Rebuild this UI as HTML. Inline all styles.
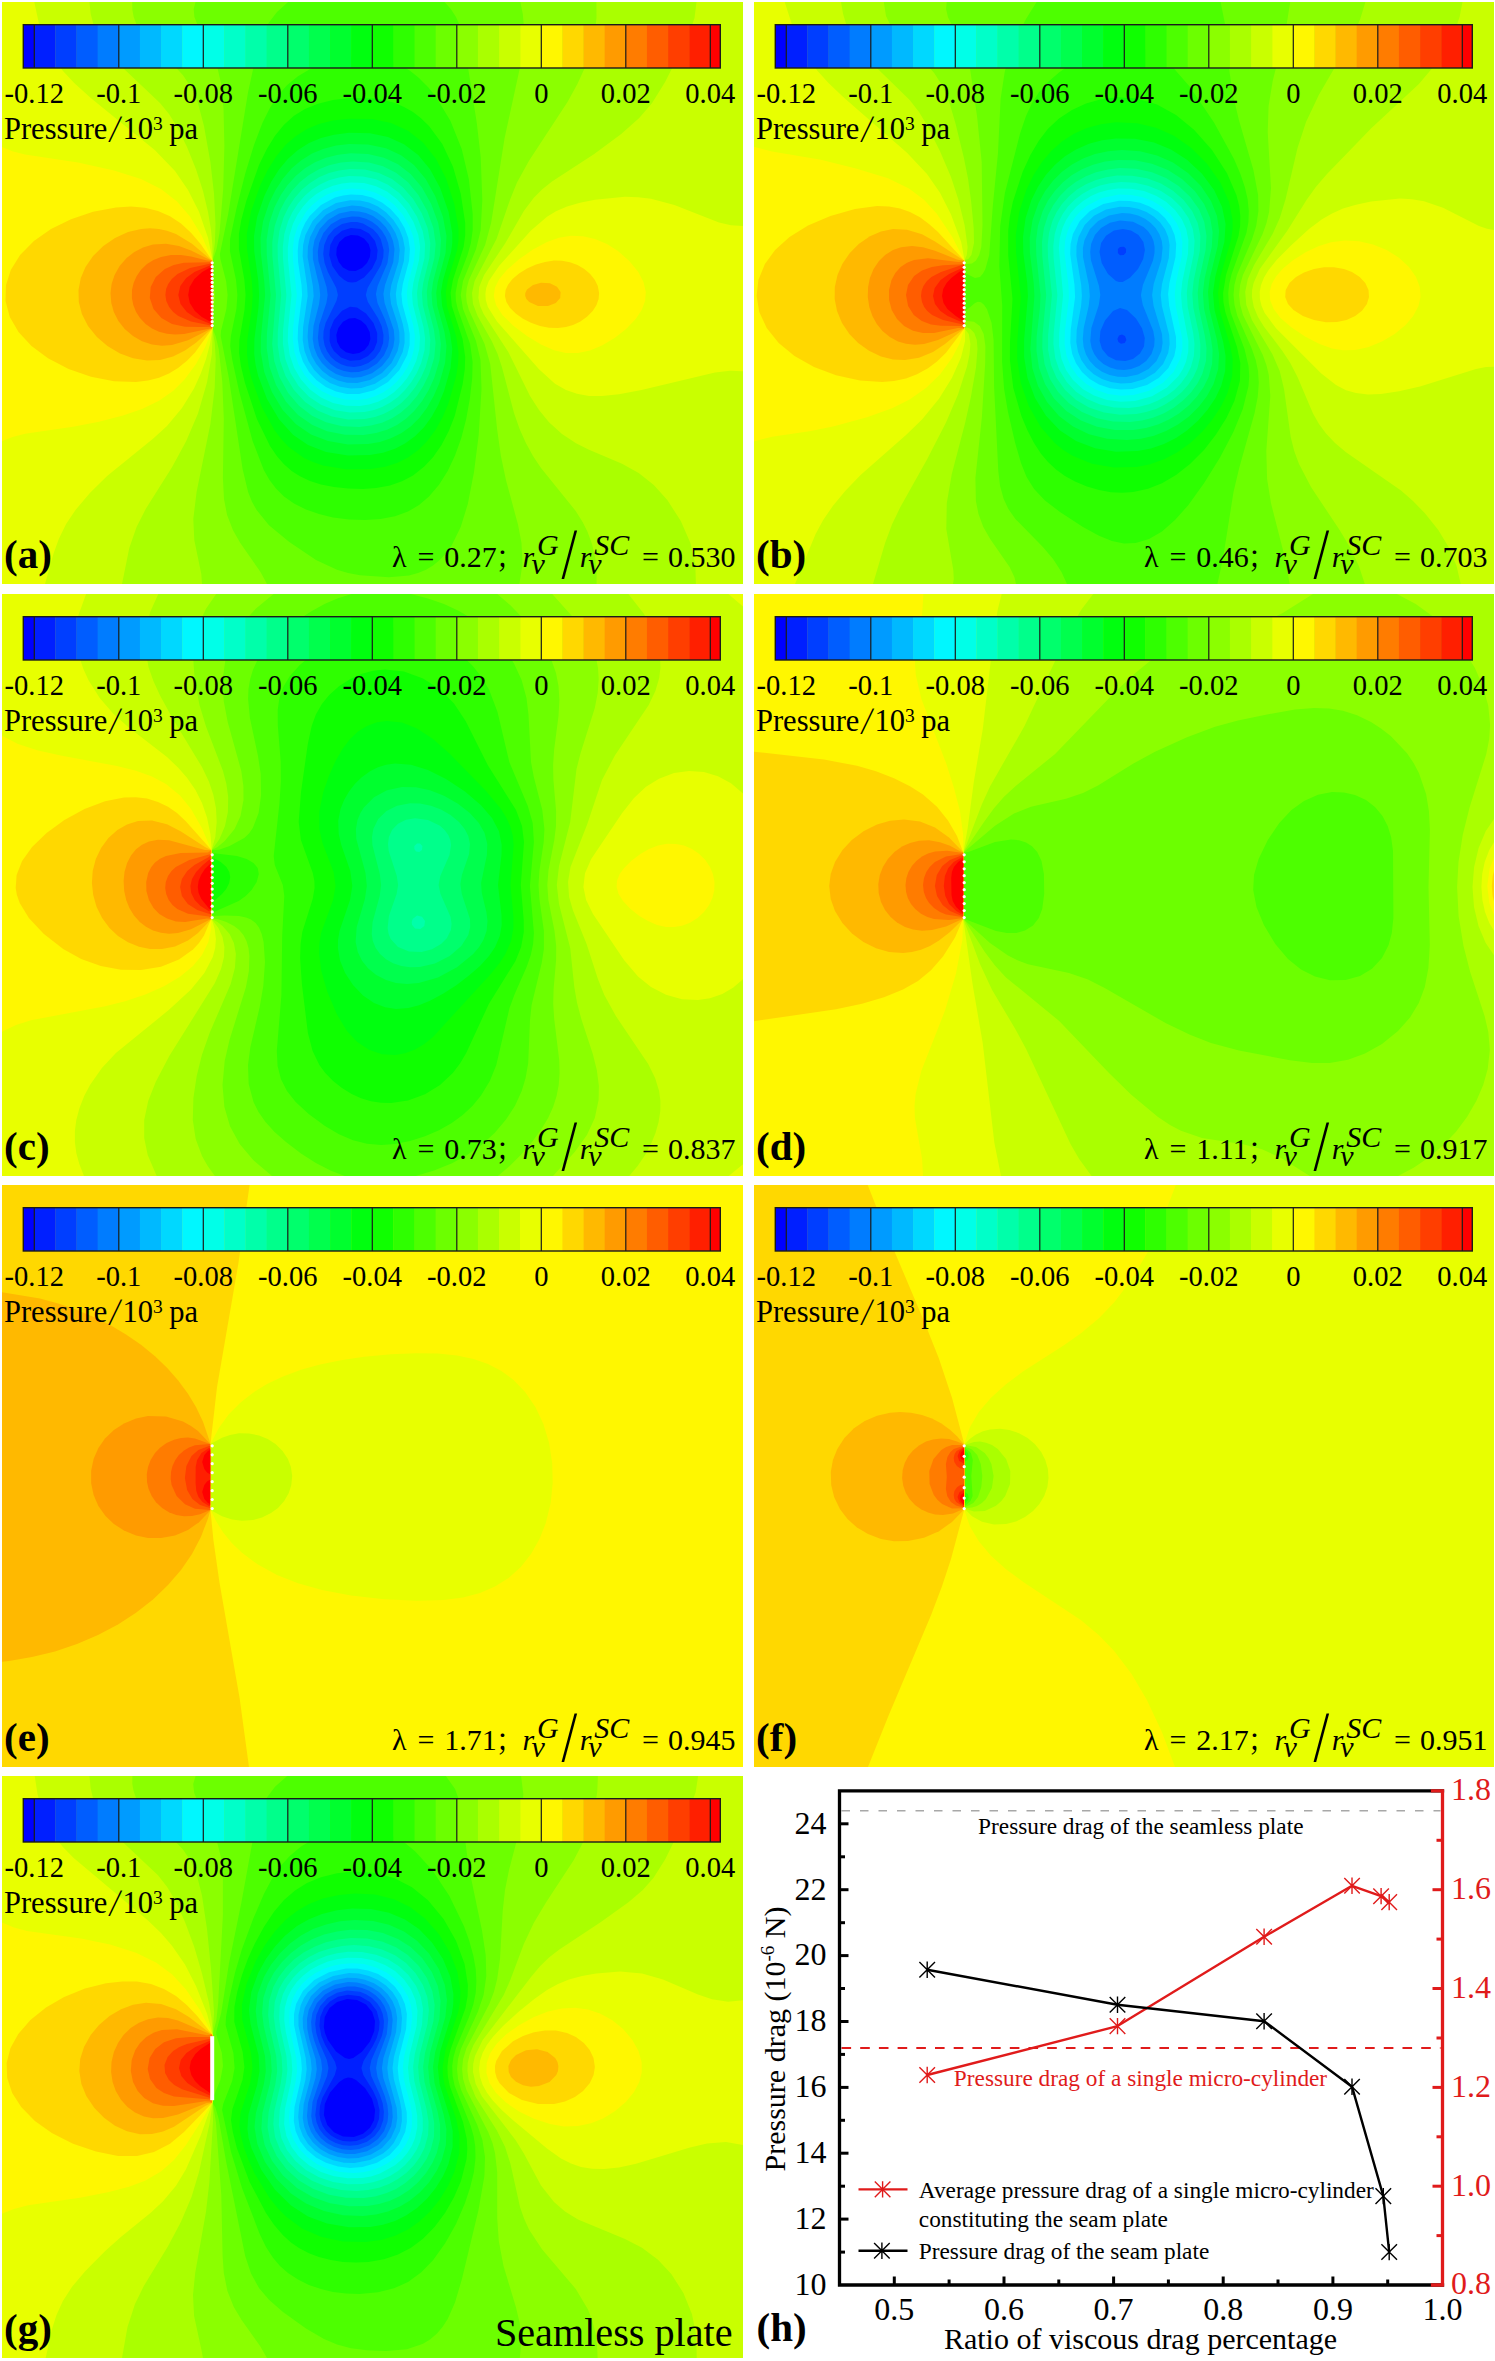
<!DOCTYPE html><html><head><meta charset="utf-8"><title>Pressure contours</title><style>

html,body{margin:0;padding:0;background:#fff}
body{width:1495px;height:2361px;position:relative;overflow:hidden}
.pn{position:absolute;overflow:hidden}
text{font-family:'Liberation Serif','Times New Roman',serif;fill:#000}
.tk{font-size:28.5px}
.pl{font-size:30.5px}
.sup{font-size:19.5px}
.lb{font-size:41px;font-weight:bold}
.eq{font-size:30px}
.ss{font-size:22px}
.sl{font-size:34px;font-family:'DejaVu Sans',sans-serif;font-weight:200}
.it{font-style:italic}
.cj{font-family:'Liberation Serif','Noto Serif CJK SC',serif}
.pls{font-size:31px;font-family:'DejaVu Sans',sans-serif;font-weight:200}
.sp{font-size:40.2px}
.ct{font-size:32px}
.cs{font-size:23.3px}
.cx{font-size:30px}
.csup{font-size:19px}

</style></head><body>
<svg class="pn" style="left:2px;top:2px" width="740.5" height="582" viewBox="0 0 740.5 582">
<rect width="741" height="582" fill="#0000ff"/>
<path fill="#001fff" fill-rule="evenodd" d="M741 582 0 582 -0 0 741 -0 741 582ZM353.6 269 360 266.1 365 261 367.9 255 368.5 248 366.7 242 362 236.4 356 233.4 349 233 343 235 337.4 240 334.7 246 334.3 253 336.7 260 341 265.4 347 268.8 353.6 269ZM357.2 351 362.5 348 366.6 343 368.4 337 367.7 330 364 323 359 318.5 353 316.1 347 316.4 341 319.8 336.3 326 334.3 333 335.1 340 338.4 346 344 350.3 351 352 357.2 351Z"/>
<path fill="#003eff" fill-rule="evenodd" d="M741 582 0 582 -0 0 741 -0 741 582ZM354.1 280 362 275.5 370 266.7 374.7 257 375.6 248 373 239 367 231.6 358.7 227 349 226 340 228.7 332.5 235 328.3 243 327.2 253 330.3 264 337 273.6 342 277.8 346 279.9 350 280.6 354.1 280ZM358.1 358 366 354.1 372 347.7 375.1 340 375.2 331 371.5 321 364 311.5 355 305.5 348 304.8 340 308.8 332 318.1 327.9 328 327.6 339 329.1 344 331.9 349 339 355.5 348 358.7 358.1 358Z"/>
<path fill="#005dff" fill-rule="evenodd" d="M741 582 0 582 -0 0 741 -0 741 582ZM358.6 364 366.2 361 373 355.9 378.1 349 381.1 341 381.5 333 379.6 324 375.9 316 365.9 300 363.8 293 365.6 286 379 262.9 381.3 255 381.6 248 378.7 237 375.5 232 371 227.2 361 221.5 355 220.1 349 220 340 222.1 332 227 326 234 322.2 243 321.2 252 322.6 261 326 270.2 334.3 286 335.9 293 334.4 299 323.6 321 321.6 329 321.3 336 322.5 343 324.9 349 329 354.9 333.5 359 339 362.2 345 364.2 352 364.9 358.6 364Z"/>
<path fill="#007cff" fill-rule="evenodd" d="M741 582 0 582 -0 0 741 -0 741 582ZM356.6 370 366 367.2 375 361.5 382 353.3 386.1 344 387.2 336 386.2 327 383.2 318 375.5 301 373.9 292 375.6 284 385.5 261 387.2 248 386.1 241 383.8 235 380.1 229 375.6 224 370 219.7 364 216.8 357 214.8 350 214.4 339 216.6 329 222.3 321.4 231 317.1 241 315.8 250 316.4 259 324.6 285 325.7 293 324.4 301 317.1 323 315.9 336 316.9 343 319.3 350 323 356.2 328.5 362 335 366.4 342 369.1 349 370.3 356.6 370Z"/>
<path fill="#009bff" fill-rule="evenodd" d="M741 582 0 582 -0 0 741 -0 741 582ZM359.2 375 370 371.2 380 364.1 387.2 355 391.3 345 392.5 337 391.8 328 382.6 301 381.4 292 383 283 391.3 260 392.5 247 391 239 388.2 232 383.7 225 378 219 371 214.1 364 211 357 209.4 349 209 337 211.6 326 217.9 317.7 227 312.5 238 310.8 247 310.9 257 317.2 284 318.2 293 317.1 302 311.5 324 310.7 337 312.2 346 315.4 354 320 361 326.1 367 334 371.9 342 374.7 351 375.8 359.2 375Z"/>
<path fill="#00b9ff" fill-rule="evenodd" d="M741 582 0 582 -0 0 741 -0 741 582ZM355.1 381 368 378 380 371.1 389.5 361 395.6 349 397.5 340 397.3 330 395.3 321 389.1 302 387.9 292 389.3 283 396.5 260 397.7 248 396.4 239 393.5 231 388.7 223 382.5 216 375 210.3 367 206.4 359 204.2 350 203.6 336 206.2 324 212.7 314.2 223 308.1 235 305.9 245 305.6 255 310.9 284 311.7 294 306.3 324 305.6 335 306.8 345 309.7 354 314.3 362 320.4 369 328 374.7 336 378.5 345 380.7 355.1 381Z"/>
<path fill="#00d8ff" fill-rule="evenodd" d="M741 582 0 582 -0 0 741 -0 741 582ZM359.4 386 373 381.8 384.8 374 394.4 363 400.7 350 402.6 341 402.5 331 400.8 322 394.9 302 393.8 292 395.3 282 401.9 259 402.8 246 400.9 236 397.3 227 391.4 218 384 210.2 376 204.6 367 200.6 358 198.5 348 198.2 334 201.1 321 208.3 310.6 219 303.4 233 301.1 243 300.6 254 305.1 284 305.7 294 301.1 325 300.7 338 302.5 349 306.4 359 312 367.7 319.1 375 328 380.9 338 384.8 349 386.6 359.4 386Z"/>
<path fill="#00f7ff" fill-rule="evenodd" d="M741 582 0 582 -0 0 741 -0 741 582ZM357.1 392 372 388.3 386 380.1 397.4 368 405.2 353 407.6 343 407.7 332 406.1 323 400.4 302 399.4 292 400.8 282 407 259 407.9 247 406.3 236 402.6 226 396.6 216 388.5 207 380 200.5 370 195.6 360 193.1 349 192.4 341 193.4 333 195.5 319 202.9 307.7 214 303.1 221 299.5 229 296.7 239 295.7 249 296.1 260 299.5 283 300.1 293 296.1 325 295.7 337 297.3 349 301 359.7 307 369.9 314.3 378 323.9 385 334 389.5 345 391.9 357.1 392Z"/>
<path fill="#00ffe8" fill-rule="evenodd" d="M741 582 0 582 -0 0 741 -0 741 582ZM355.8 398 365 396.7 373 394.2 381 390.5 388 385.8 394.5 380 400.4 373 405.5 365 409.3 357 412.3 346 412.9 334 411.4 324 405.7 302 404.8 291 406.2 281 412 259 413.1 247 411.6 236 407.4 224 401 212.9 392.5 203 383 195.5 373 190.5 362 187.4 350 186.5 341 187.4 333 189.4 325 192.6 317 197.4 310 203.2 304 209.9 295.4 225 292.1 236 290.8 247 291.1 259 294.8 293 291.1 326 290.8 337 292.4 350 296.3 362 302.6 373 310.4 382 320 389.3 331 394.6 343 397.5 355.8 398Z"/>
<path fill="#00ffc9" fill-rule="evenodd" d="M741 582 0 582 -0 0 741 -0 741 582ZM357.9 404 367 402.5 376 399.7 384 395.7 392 390.2 399 383.6 405 376.2 410.1 368 414.2 359 417.4 347 418 335 416.5 325 410.8 302 410 291 411.3 281 417.1 258 418.1 245 416.3 233 411.5 220 404 207.5 395 197.3 385 189.6 374 184.2 362 181.1 349 180.4 340 181.4 331 183.7 322 187.4 314 192.3 307 198.1 300.7 205 295.3 213 290.9 222 287.3 234 285.8 246 286 258 289.5 293 286.1 327 285.8 339 287.7 353 292.2 366 299 377.6 308 387.6 319 395.6 331 401 344 403.8 357.9 404Z"/>
<path fill="#00ffaa" fill-rule="evenodd" d="M741 582 0 582 -0 0 741 -0 741 582ZM362.5 410 372 407.9 380.1 405 388 400.8 396 395 403 388.1 409.4 380 414.8 371 419.2 361 422.6 348 423.1 336 421.5 325 415.9 303 415 291 416.3 281 422.5 256 423.1 242 420.7 229 415 214.7 407 201.7 397 190.7 386 182.7 374 177.3 361 174.4 347 174 337 175.4 327 178.3 318 182.4 310 187.5 302.5 194 296 201.6 290.5 210 286.2 219 282.3 232 280.8 245 281 257 284.4 293 281 329 280.9 342 283.3 357 288.5 371 296.6 384 307 394.8 319 402.8 333 408.2 348 410.6 362.5 410Z"/>
<path fill="#00ff8b" fill-rule="evenodd" d="M741 582 0 582 -0 0 741 -0 741 582ZM362.6 417 373 414.9 382 411.8 391 407 399 401.2 406.3 394 413 385.4 419 375.4 423.7 365 427.5 351 428.3 338 426.8 327 420.8 303 419.9 291 421.2 281 427.4 256 428.3 241 425.6 226 419.6 211 411 196.7 401 185.4 390 177 377 170.9 363 167.6 348 167 337 168.4 327 171.1 317 175.3 308 180.9 300 187.6 292.6 196 286.6 205 281.7 215 277.4 229 275.6 243 275.8 256 279.2 293 275.8 330 275.7 343 278.1 359 283.5 374 292 388.1 303.1 400 316 408.8 330 414.5 346 417.4 362.6 417Z"/>
<path fill="#00ff6c" fill-rule="evenodd" d="M741 582 0 582 -0 0 741 -0 741 582ZM357.3 425 369 423.6 380 420.7 390 416.3 399 410.5 407.4 403 415 394 421.3 384 427 372.4 432.2 356 433.6 341 432 328 425.6 303 424.8 290 426.2 280 432.4 256 433.7 242 431.4 226 425.3 209 416.4 193 406 180.3 394 170.7 381 164.3 367 160.6 351 159.5 339 160.5 327 163.3 317 167.2 307 172.9 298 180.1 290 188.7 283.5 198 277.8 209 272.7 224 270.3 240 270.4 254 274 293 270.2 342 272.2 359 277.4 375 286 390.7 297 403.7 310 413.7 324 420.3 340 424.2 357.3 425Z"/>
<path fill="#00ff4d" fill-rule="evenodd" d="M741 582 0 582 -0 0 741 -0 741 582ZM361.6 433 374 431.1 385 427.7 395 422.9 404 416.7 412.2 409 420 399.2 426.7 388 432.2 376 437.6 358 438.9 342 437.2 329 430.4 303 429.5 291 431 280 438 253 439 238 436.2 221 429.2 202 420 185.6 408.6 172 396 162.2 382 155.7 366 152 349 151.3 336 152.7 324 155.7 313 160.2 303 166.2 294 173.7 285.6 183 278.8 193 272.6 205 267.2 221 264.6 238 264.8 253 268.6 293 264.9 332 264.7 346 267.5 365 274 382.9 284 399.7 296 412.9 310 422.8 325 429.2 343 432.8 361.6 433Z"/>
<path fill="#00ff2e" fill-rule="evenodd" d="M741 582 0 582 -0 0 741 -0 741 582ZM366.1 442 378 439.9 389 436.3 399.6 431 409 424.2 417.3 416 425 405.7 431.7 394 437.4 381 443.1 361 444.5 344 442.5 330 435.3 304 434.2 291 435.8 280 443.6 251 444.5 234 441 215 433.2 194 423.7 177 412 163.1 399 153.2 384 146.3 366 142.4 347 142 334 143.6 321 147 310 151.6 299 158.4 290 166.1 281 176.5 273.5 188 267.1 201 261.1 219 258.5 236 258.8 251 262.3 280 263.1 293 258.9 335 258.7 350 262.2 370 269.9 390 280.7 408 294 422.3 309 432.5 326 439.1 346 442.4 366.1 442Z"/>
<path fill="#00ff0f" fill-rule="evenodd" d="M741 582 0 582 -0 0 741 -0 741 582ZM367.9 453 381 450.7 393 446.7 403 441.6 413 434.3 422 425.2 429.5 415 436.2 403 442 389.3 448.6 366 450.3 347 448.2 332 440.1 304 439 290 440.8 279 449.1 250 450.3 241 450.3 231 446.6 210 438.2 186 428 167.2 416.2 153 402 142.2 386 135.1 368 131.3 347 130.8 332 132.7 319 136.1 307 141.1 296 148 286 156.8 277 167.6 269.1 180 262.3 194 255.1 215 252 234 252.2 249 256.3 279 257.1 293 256.4 306 252.4 337 252.2 352 253.6 363 256.2 374 265 397 277 417.3 291 432.7 306 443 324 449.9 346 453.4 367.9 453Z"/>
<path fill="#0fff00" fill-rule="evenodd" d="M741 582 0 582 -0 0 741 -0 741 582ZM368.6 467 383 464.7 395 460.9 406 455.4 416 448.2 425 439.3 433.5 428 440.7 415 446.6 401 454.2 374 456 362 456.5 351 454.3 335 444.9 304 443.8 290 445.9 278 455.1 248 456.5 238 456.5 227 452.3 202 444 176.5 434 156.9 421 140.6 406 128.8 389 121.1 370 117.1 347 116.7 331 118.6 317 122.1 305 127.1 294 133.9 284 142.6 274.5 154 266 167.5 258.4 183 249.2 209 244.8 232 245 247 249.8 279 250.7 293 249.8 307 245.3 338 245 352 246.3 363 249.3 376 259.8 405 272.4 428 279.2 437 286.8 445 302 455.9 311 460.1 321 463.4 344 467.2 368.6 467Z"/>
<path fill="#2eff00" fill-rule="evenodd" d="M741 582 0 582 -0 0 741 -0 741 582ZM374.1 486 388 483.4 400 479.3 411 473.4 422 464.8 431 455.2 439.5 443 446.8 429 452.7 414 460.7 382 462.8 367 463.2 355 460.6 337 449.8 304 448.6 291 450.9 278 461.6 245 463.2 233 463.2 221 458.8 192 451 164.7 440.3 142 427 124 419 116.2 411 110.1 402 104.9 393 101.1 383 98.2 372 96.4 348 95.9 331 98 316 101.7 303 107 292 113.8 282 122.7 273 133.7 265 146.7 257 163.1 244.3 199 239.3 218 236.9 232 236.9 247 242.4 278 243.6 293 242.5 308 237.4 338 237.1 351 238.9 364 243 381 255 417.2 268 443.9 275 454.2 282 462.2 290 469.2 298 474.3 308 479 319 482.5 332 485.1 346 486.6 361 486.9 374.1 486Z"/>
<path fill="#4dff00" fill-rule="evenodd" d="M741 582 0 582 -0 0 741 -0 741 582ZM378.5 517 393 514.3 406 509.6 417 503.1 427 494.6 437 482.8 445.7 469 453 453.6 459.3 436 464.2 417 467.8 397 470.2 376 470.6 360 468.1 342 455.7 307 453.9 299 453.6 291 456 278 465.5 253 468.9 241 470.7 228 470.7 212 466.8 177 459.7 147 448.5 119 434 95 426 85.1 417 76 408 68.8 398 62.7 388 58.4 377 55.3 366 53.9 355 53.8 340 55.7 324 60.1 309 66.4 296 74.2 285 83.3 276 93.5 268 105.7 260.4 121 252 142.9 243.4 171 234.6 206 228.1 237 227.9 249 234 277.8 235.4 293 234.4 307 228.9 334 228.2 344 230.3 358 237.3 390 250.6 439 261.8 468 267.5 478 274 486.6 282 494.4 292 501.5 304 507.5 317 512.1 331 515.4 347 517.4 363 517.9 378.5 517Z"/>
<path fill="#6cff00" fill-rule="evenodd" d="M741 582 0 582 -0 0 286.1 0 275 9.9 266.6 21 260 34.3 254.6 51 246 90.5 226.2 212 217.9 252 218.4 257 224.1 279 225.6 293 224.4 307 219 329 218.7 334 226.7 375 240.6 467 246.1 490 250 499.7 254.6 508 267 523.2 287 539.8 314 557.9 335 567.8 346 571 358 573.2 387 575.3 407 573.6 416 571.1 424 567.7 431 563.5 438 557.8 444.3 551 449.9 543 458.7 525 465.8 502 472 470.1 476.7 433 479.5 387 478.5 358 474 339 461 307 458.7 293 461 279 474.1 247 478.7 228 480.3 198 478.7 155 474.8 121 461.2 35 458 24.1 454 15 448.8 7 442.5 0 741 -0 741 582Z"/>
<path fill="#8bff00" fill-rule="evenodd" d="M264 582 -0 582 0 -0 193.5 0 191.7 7 192.4 15 196 24 209 47.8 214.6 62 219 81.2 221.5 106 222.4 144 221.2 187 217.5 231 214.5 247 210.9 258 211 277.7 213.2 294 211 310.1 210.9 327 213.6 334 216.7 347 220.3 380 221.8 417 220.9 476 222 497 225.1 513 231 528.3 238.3 541 258.5 570 265 582 264 582ZM741 582 517.4 582 520.5 562 519.5 541 516.1 523 504 478.2 498.9 454 495.2 428 488.2 362 482.6 342 466.9 308 464.7 300 464.1 293 464.8 286 466.9 278 483.1 243 489.1 221 502.6 136 517.4 68 520.5 50 521.8 24 520.8 12 518.4 0 741 0 741 582Z"/>
<path fill="#aaff00" fill-rule="evenodd" d="M200 582 -0 582 0 -0 130.2 0 130.4 8 131.7 15 134.7 23 138.7 30 149 42.5 172 63.5 181 73.2 189.5 86 195.9 101 202 124 208.4 160 212 191.5 213.5 222 212.9 241 210.7 257 210.7 328 212.8 341 213.7 357 212.7 386 208.4 422 194.6 490 191.3 517 192.3 538 199.3 572 200 582ZM741 582 594.6 582 594.6 568 593.1 555 590 542 585.6 530 580.6 520 573.7 509 539 465.9 531 454 524 441.3 517.6 427 512 411.1 499.9 365 495.6 352 489.7 339 475.6 314 471 302 470 291 472.6 279 494.5 237 508.3 197 515 180.6 527 158.7 565.5 100 575.4 82 582.7 66 588.7 49 592.6 32 594.5 16 594.4 0 741 0 741 582Z"/>
<path fill="#c9ff00" fill-rule="evenodd" d="M119 582 -0 582 0 -0 87.4 0 88.7 12 91.6 23 96.2 34 103 45.3 118.9 64 158 100.9 167 112.1 175 124.8 185 145 194 167.2 201 189.1 206 210 209 227.7 210.4 243 210.9 323 209.9 352 205 380.6 196 411.4 184 439.5 170 465.2 143.7 507 134.6 525 127.3 546 120 582 119 582ZM741 582 693.9 582 693.3 562 688.4 541 678.8 519 665.3 498 651.8 483 636.7 471 620 461.7 587 447.7 574 441.2 560 432 547 420.2 537 408.1 528 394 506.3 350 481.6 312 478.1 304 476.4 296 477.2 285 482.1 273 503.4 241 522 208.8 532 195.5 540 187.5 550 179.5 592.2 152 619.2 132 637.2 116 650.1 101 663.1 80 686.3 34 692.5 16 694.5 0 741 0 741 582Z"/>
<path fill="#e8ff00" fill-rule="evenodd" d="M43 582 -0 582 0 -0 32.3 0 36.8 21 42.9 39 50.9 55 61 69 72.2 81 88.8 96 153 148.3 173 169.1 186 187.9 197 209.8 206 235.7 210.7 259 210.7 326 208 342 204 357.2 199 371.1 192 386.4 180 406.1 165 423.9 151 436.8 105.1 474 87.9 491 73.5 508 64.1 522 56.8 537 51.4 552 43 582ZM600 394 587 393.9 575 391.8 564 388 553 381.7 537 367.3 495 319.5 485.9 305 483.8 298 483.4 292 484.2 286 486.8 279 497 263.9 529 228.5 545 214.7 554 209.3 565 204.6 578 200.7 593 197.7 623 194.8 636 195.2 649 196.8 672.4 203 717 220.6 729 223.3 741 224 741 369.2 728 368.7 713 370.4 639.5 388 617 392.2 600 394Z"/>
<path fill="#fff700" fill-rule="evenodd" d="M0 439.3 0 144.9 11 149.4 23 152.6 76 160.6 112 168.6 139 177.1 159 187.1 175 199.6 188 214.6 200 234.2 210.6 259 210.6 326 203 345.5 194 362.1 183 377.1 171 389 157 398.8 140 407 121 413.5 97 419.7 71 424.8 23 431.7 10.5 435 0 439.3ZM576 351.1 564 351 552 348.2 539 342.4 525 333.9 511 323.4 500.4 313 494 303 491.8 294 493 285.5 497.3 277 505 267.8 517 257.3 531 247.5 545 239.9 557 235.7 569 233.8 581 234.2 593 236.9 605 242 616 249 627.3 259 636.3 270 641.5 280 643.8 290 643.1 299 639.7 308 633.7 317 624.1 327 612.6 336 600 343.5 588 348.5 576 351.1Z"/>
<path fill="#ffd800" fill-rule="evenodd" d="M134 380 112 379.2 89 374.7 66.6 367 46 356.3 29.5 344 16.5 330 7.8 315 3.5 299 4 283 8.8 268 18.1 253 31.9 239 49 227 69 217.2 91 209.8 114 205.4 129 204.6 143 205.7 156 208.9 168 214.2 179 221.6 189 230.8 199 242.6 210.5 259 210.7 323 210 327 193 350.4 185 358.7 176 366 167 371.5 157 375.7 146 378.6 134 380ZM556 326 547 325.7 538 323.9 529 320.7 521 316.7 514 311.8 508.1 306 504.4 300 502.9 294 503.6 288 506 282.7 510.5 277 517 271.4 525 266.5 534 262.5 543 259.9 552 258.6 560 258.8 568 260.2 575.5 263 582.3 267 588.2 272 592.9 278 595.8 284 597.1 291 596.6 297 594.5 303 590.7 309 585 314.8 578 319.7 571 323 564 325 556 326Z"/>
<path fill="#ffb900" fill-rule="evenodd" d="M158 358 145 358.6 131 356.2 118 351.4 105.4 344 94.9 335 86 324 79.9 312 76.8 300 76.5 288 78.8 276 83.5 265 91.1 254 101.3 244 113 236 126 230.1 139 227 148 226.3 157 227 165 228.7 174 232 190 241.7 210.4 259 210.4 326 194 340.7 183 348.6 171 354.6 158 358ZM546 304.1 536 303.9 527.2 300 524.4 297 523.2 294 523.3 291 525 287.6 531 283 539 280.8 548 281.3 555 284.7 558.6 290 558.2 296 553.8 301 546 304.1Z"/>
<path fill="#ff9b00" fill-rule="evenodd" d="M170 343 160 343.7 150 342.5 140 339.2 131 334.1 122.7 327 116.4 319 111.8 310 109.3 301 108.5 291 109.6 282 112.6 273 117.6 264 124.6 256 132.3 250 141 245.5 151 242.5 164 241.7 177 244 189 248.5 210.3 259 210.3 326 186 338.3 170 343Z"/>
<path fill="#ff7c00" fill-rule="evenodd" d="M182 332 173 332.5 165 331.8 157 329.7 150 326.5 143.6 322 138 316.1 134.1 310 131.3 303 129.9 296 130 288 131.6 281 134.7 274 139 267.8 145 262.1 151.5 258 159 255 169 253.1 179 253.1 189 254.6 205 258.6 210.3 259 210.3 326 182 332Z"/>
<path fill="#ff5d00" fill-rule="evenodd" d="M210 259.7 209.2 259 210 258.7 210 259.7ZM198 325 183 324.8 170 321.9 159.4 316 151.5 307 147.8 296 148.7 285 153.8 275 162.9 267 171.7 263 182 260.7 208 260.3 210 261.2 210.4 323 209 324.7 198 325ZM210 326.3 209.2 326 210 325.3 210 326.3Z"/>
<path fill="#ff3e00" fill-rule="evenodd" d="M210 323.7 189 319.6 176.3 314 171.2 310 167.1 305 164.3 299 163.4 293 164.1 287 166.2 282 169.8 277 175.5 272 188.1 266 210 261.3 210 323.7Z"/>
<path fill="#ff1f00" fill-rule="evenodd" d="M210 323.6 208 321.7 193 315.6 184.8 310 178.5 302 176.3 293 178.3 284 184.2 276 192.4 270 208 263.4 210 261.4 209.2 264 210.2 265 210.4 272 210.4 313 210.2 320 209.2 321 210 323.6Z"/>
<path fill="#ff0000" fill-rule="evenodd" d="M210 262.8 209.2 262 210 261.5 210 262.8ZM210 320.4 199.8 315 192.9 309 187.8 301 186.2 293 187.6 285 192.4 277 200.2 270 210 264.6 210 320.4ZM210 323.5 209.2 323 210 322.2 210 323.5Z"/>
<circle cx="210.2" cy="260.8" r="1.6" fill="#fff"/><circle cx="210.2" cy="264.7" r="1.6" fill="#fff"/><circle cx="210.2" cy="268.7" r="1.6" fill="#fff"/><circle cx="210.2" cy="272.6" r="1.6" fill="#fff"/><circle cx="210.2" cy="276.5" r="1.6" fill="#fff"/><circle cx="210.2" cy="280.4" r="1.6" fill="#fff"/><circle cx="210.2" cy="284.4" r="1.6" fill="#fff"/><circle cx="210.2" cy="288.3" r="1.6" fill="#fff"/><circle cx="210.2" cy="292.2" r="1.6" fill="#fff"/><circle cx="210.2" cy="296.1" r="1.6" fill="#fff"/><circle cx="210.2" cy="300.1" r="1.6" fill="#fff"/><circle cx="210.2" cy="304.0" r="1.6" fill="#fff"/><circle cx="210.2" cy="307.9" r="1.6" fill="#fff"/><circle cx="210.2" cy="311.8" r="1.6" fill="#fff"/><circle cx="210.2" cy="315.8" r="1.6" fill="#fff"/><circle cx="210.2" cy="319.7" r="1.6" fill="#fff"/><circle cx="210.2" cy="323.6" r="1.6" fill="#fff"/>
<rect x="21.30" y="22.7" width="11.30" height="43.3" fill="#0000ff"/>
<rect x="32.30" y="22.7" width="21.43" height="43.3" fill="#001fff"/>
<rect x="53.43" y="22.7" width="21.42" height="43.3" fill="#003eff"/>
<rect x="74.55" y="22.7" width="21.43" height="43.3" fill="#005dff"/>
<rect x="95.67" y="22.7" width="21.43" height="43.3" fill="#007cff"/>
<rect x="116.80" y="22.7" width="21.42" height="43.3" fill="#009bff"/>
<rect x="137.92" y="22.7" width="21.43" height="43.3" fill="#00b9ff"/>
<rect x="159.05" y="22.7" width="21.43" height="43.3" fill="#00d8ff"/>
<rect x="180.18" y="22.7" width="21.43" height="43.3" fill="#00f7ff"/>
<rect x="201.30" y="22.7" width="21.43" height="43.3" fill="#00ffe8"/>
<rect x="222.43" y="22.7" width="21.43" height="43.3" fill="#00ffc9"/>
<rect x="243.55" y="22.7" width="21.42" height="43.3" fill="#00ffaa"/>
<rect x="264.67" y="22.7" width="21.43" height="43.3" fill="#00ff8b"/>
<rect x="285.80" y="22.7" width="21.43" height="43.3" fill="#00ff6c"/>
<rect x="306.93" y="22.7" width="21.43" height="43.3" fill="#00ff4d"/>
<rect x="328.05" y="22.7" width="21.42" height="43.3" fill="#00ff2e"/>
<rect x="349.18" y="22.7" width="21.43" height="43.3" fill="#00ff0f"/>
<rect x="370.30" y="22.7" width="21.43" height="43.3" fill="#0fff00"/>
<rect x="391.43" y="22.7" width="21.43" height="43.3" fill="#2eff00"/>
<rect x="412.55" y="22.7" width="21.43" height="43.3" fill="#4dff00"/>
<rect x="433.68" y="22.7" width="21.43" height="43.3" fill="#6cff00"/>
<rect x="454.80" y="22.7" width="21.43" height="43.3" fill="#8bff00"/>
<rect x="475.93" y="22.7" width="21.43" height="43.3" fill="#aaff00"/>
<rect x="497.05" y="22.7" width="21.42" height="43.3" fill="#c9ff00"/>
<rect x="518.17" y="22.7" width="21.43" height="43.3" fill="#e8ff00"/>
<rect x="539.30" y="22.7" width="21.43" height="43.3" fill="#fff700"/>
<rect x="560.42" y="22.7" width="21.43" height="43.3" fill="#ffd800"/>
<rect x="581.55" y="22.7" width="21.43" height="43.3" fill="#ffb900"/>
<rect x="602.67" y="22.7" width="21.43" height="43.3" fill="#ff9b00"/>
<rect x="623.80" y="22.7" width="21.42" height="43.3" fill="#ff7c00"/>
<rect x="644.92" y="22.7" width="21.43" height="43.3" fill="#ff5d00"/>
<rect x="666.05" y="22.7" width="21.43" height="43.3" fill="#ff3e00"/>
<rect x="687.17" y="22.7" width="21.43" height="43.3" fill="#ff1f00"/>
<rect x="708.30" y="22.7" width="10.30" height="43.3" fill="#ff0000"/>
<line x1="32.30" y1="22.7" x2="32.30" y2="66.0" stroke="#1a1a1a" stroke-width="1.2"/>
<line x1="116.80" y1="22.7" x2="116.80" y2="66.0" stroke="#1a1a1a" stroke-width="1.2"/>
<line x1="201.30" y1="22.7" x2="201.30" y2="66.0" stroke="#1a1a1a" stroke-width="1.2"/>
<line x1="285.80" y1="22.7" x2="285.80" y2="66.0" stroke="#1a1a1a" stroke-width="1.2"/>
<line x1="370.30" y1="22.7" x2="370.30" y2="66.0" stroke="#1a1a1a" stroke-width="1.2"/>
<line x1="454.80" y1="22.7" x2="454.80" y2="66.0" stroke="#1a1a1a" stroke-width="1.2"/>
<line x1="539.30" y1="22.7" x2="539.30" y2="66.0" stroke="#1a1a1a" stroke-width="1.2"/>
<line x1="623.80" y1="22.7" x2="623.80" y2="66.0" stroke="#1a1a1a" stroke-width="1.2"/>
<line x1="708.30" y1="22.7" x2="708.30" y2="66.0" stroke="#1a1a1a" stroke-width="1.2"/>
<rect x="21.3" y="22.7" width="697.0" height="43.3" fill="none" stroke="#1a1a1a" stroke-width="1.4"/>
<text x="32.3" y="100.8" text-anchor="middle" class="tk">-0.12</text>
<text x="116.8" y="100.8" text-anchor="middle" class="tk">-0.1</text>
<text x="201.3" y="100.8" text-anchor="middle" class="tk">-0.08</text>
<text x="285.8" y="100.8" text-anchor="middle" class="tk">-0.06</text>
<text x="370.3" y="100.8" text-anchor="middle" class="tk">-0.04</text>
<text x="454.8" y="100.8" text-anchor="middle" class="tk">-0.02</text>
<text x="539.3" y="100.8" text-anchor="middle" class="tk">0</text>
<text x="623.8" y="100.8" text-anchor="middle" class="tk">0.02</text>
<text x="708.3" y="100.8" text-anchor="middle" class="tk">0.04</text>
<text x="2" y="136.5" class="pl">Pressure</text><text transform="translate(106.2 136.5) skewX(-10)" class="pls">/</text><text x="120.6" y="136.5" class="pl">10</text><text x="151" y="127.7" class="sup">3</text><text x="167.3" y="136.5" class="pl">pa</text>
<text x="2.1" y="565.6" class="lb">(a)</text>
<text x="390" y="565.1" class="eq">λ</text>
<text x="415.6" y="565.1" class="eq">=</text>
<text x="442.3" y="565.1" class="eq">0.27</text>
<text x="493.5" y="565.1" class="eq cj">；</text>
<text x="520.6" y="565.1" class="eq it">r</text>
<text x="529.6" y="572.2" class="eq it">v</text>
<text x="535.1" y="552.6" class="eq it">G</text>
<text transform="translate(558.7 571.8) scale(1.5 1.7)" class="sl">/</text>
<text x="577.8" y="565.1" class="eq it">r</text>
<text x="586.3" y="572.2" class="eq it">v</text>
<text x="592.3" y="552.6" class="eq it">SC</text>
<text x="640" y="565.1" class="eq">=</text>
<text x="733.6" y="565.1" text-anchor="end" class="eq">0.530</text>
</svg>
<svg class="pn" style="left:753.5px;top:2px" width="740.5" height="582" viewBox="0 0 740.5 582">
<rect width="741" height="582" fill="#003eff"/>
<path fill="#005dff" fill-rule="evenodd" d="M741 582 0 582 -0 0 741 -0 741 582ZM369.8 253 372 250.5 372.1 247 370 244.8 366 244.9 363.9 247 363.9 251 366 253.2 369.8 253ZM370.7 341 372.4 338 371 334 368 332.6 365 333.6 363.4 337 364.4 340 367 341.7 370.7 341Z"/>
<path fill="#007cff" fill-rule="evenodd" d="M741 582 0 582 -0 0 741 -0 741 582ZM368.7 280 376 275.8 384 266.9 389.2 257 390.9 248 389.4 240 384.5 233 377 228.5 369 227.1 360 228.6 352 233.7 347.1 241 345.5 250 347.7 261 354 272 362 279.1 365 280.1 368.7 280ZM371.3 359 379 356.9 386 351.6 390 344.4 390.8 336 388 326.2 382 316.6 373 308.1 366 305.9 359 309 351 318.4 346.4 329 345.6 339 348 347.1 354 354.2 362 358.2 371.3 359Z"/>
<path fill="#009bff" fill-rule="evenodd" d="M741 582 0 582 -0 0 741 -0 741 582ZM377.1 367 385.2 364 392.2 359 397.5 352 400.2 344 400.6 337 399.3 329 388.8 303 386.9 293 388.9 283 399 258.4 400.5 251 400.6 245 399.5 239 397.4 234 393.9 229 389.6 225 379 219.7 366 218.4 356 220.7 347 226 340.9 233 337.1 242 336.2 250 336.9 258 345 284 346.3 293 344.8 303 337.4 326 336.3 339 337.6 346 340.2 352 344 357.3 349.4 362 356 365.5 363 367.4 370 367.9 377.1 367Z"/>
<path fill="#00b9ff" fill-rule="evenodd" d="M741 582 0 582 -0 0 741 -0 741 582ZM372.1 375 384 372.6 394.6 367 402.5 359 407.3 349 408.6 341 408 332 399.6 304 398.1 293 399.7 282 407.3 258 408.6 246 407.8 239 405.3 232 401.6 226 396.8 221 391 216.8 384 213.6 376 211.6 368 211.1 355 213.4 344.1 219 336 227 330.5 238 328.9 246 329 255 334.9 283 335.8 294 334.7 304 329.7 326 328.8 337 329.6 345 332 352.4 335.8 359 341.3 365 348 369.7 355.6 373 364 374.8 372.1 375Z"/>
<path fill="#00d8ff" fill-rule="evenodd" d="M741 582 0 582 -0 0 741 -0 741 582ZM377 381 390 377.3 401 370.7 409.1 362 414.2 351 415.6 342 415.2 333 407.9 304 406.7 293 408 282 414.8 256 415.6 243 414.2 235 411 227.3 406 220.3 400 214.7 392.5 210 384 206.7 375 204.9 366 204.8 352 207.6 340 213.8 330.6 223 324.5 235 322.5 244 322.4 254 327.2 283 327.9 294 327.1 304 322.7 328 322.3 340 324 349.7 327.3 358 332.9 366 339.4 372 347.9 377 357 380.1 367 381.5 377 381Z"/>
<path fill="#00f7ff" fill-rule="evenodd" d="M741 582 0 582 -0 0 741 -0 741 582ZM378.6 387 393 382.9 405 375.8 414.4 366 420.3 354 422.1 345 422 335 415.2 304 414.1 292 415.4 281 421.5 255 422.2 242 420.6 233 416.8 224 411 216 404 209.6 395 204.2 386 200.8 376 198.9 365 198.7 349.3 202 336 209 325.8 219 318.9 232 316.6 242 316.2 252 320.5 283 321.1 295 316.7 328 316.3 341 318.2 352 322 361.3 328 369.9 335.7 377 345 382.5 356 386.2 367 387.6 378.6 387Z"/>
<path fill="#00ffe8" fill-rule="evenodd" d="M741 582 0 582 -0 0 741 -0 741 582ZM379.6 393 395 388.8 409 380.7 419.5 370 426.2 357 428.3 347 428.3 337 421.7 304 420.8 292 422.1 280 427.8 254 428.4 240 426.5 230 422.6 221 416.1 212 408 204.7 398.6 199 388 195 377 192.9 365 192.6 348 196 333 203.7 326.6 209 321.2 215 316.7 222 313.7 229 311.1 239 310.4 250 314.5 284 314.9 296 310.9 329 310.6 342 312.6 354 317 364.7 323.5 374 332 381.8 342 387.8 354 391.9 367 393.7 379.6 393Z"/>
<path fill="#00ffc9" fill-rule="evenodd" d="M741 582 0 582 -0 0 741 -0 741 582ZM380.9 399 398 394.3 413 385.6 424.5 374 428.9 367 432 359.8 434.2 350 434.4 339 428 305 427 292 428.2 280 434 252 434.4 238 432.2 227 427.7 217 421 207.9 412 199.8 402 193.7 390 189.1 377 186.7 364 186.6 354 188.1 345 190.6 337 194.1 329.1 199 322 205 316.7 211 312.1 218 308.5 226 305.8 236 304.8 246 309.1 293 305.2 331 305.1 344 307.5 357 312 368 319 378.1 329 387.2 340 393.6 353 397.9 367 399.8 380.9 399Z"/>
<path fill="#00ffaa" fill-rule="evenodd" d="M741 582 0 582 -0 0 741 -0 741 582ZM374.9 406 385 404.8 395 402.2 404 398.6 413 393.5 420.3 388 427.2 381 432.9 373 436.9 365 439.9 354 440.5 342 439.2 331 433.7 305 432.8 291 434.1 279 439.7 252 440.6 239 438.8 227 434.5 216 427 205 418 196.3 407 189.1 394 183.7 381 180.8 367 180.1 356 181.2 346 183.6 337 187.1 328.2 192 320.4 198 314 204.6 308.7 212 304.1 221 300.7 232 299.3 244 299.6 256 303.4 293 299.7 331 299.4 342 301.2 356 305.3 368 312.7 380 322 389.7 333 397.1 346 402.6 360 405.6 374.9 406Z"/>
<path fill="#00ff8b" fill-rule="evenodd" d="M741 582 0 582 -0 0 741 -0 741 582ZM382.5 412 392 410.1 402 406.9 411 402.6 420 396.8 427.9 390 434.1 383 439.4 375 443.5 366 446.1 355 446.4 343 445 332 439.4 306 438.3 292 439.6 279 445.8 249 446.4 234 443.7 221 438.1 209 429.6 198 419 188.7 407 181.5 393 176.3 378 173.7 363 173.6 352 175.2 342 177.9 332 182.2 323 187.6 315 194.2 308 202 302.7 210 298.4 219 295 231 293.7 243 294 255 297.9 293 294.1 333 294.1 348 297 362.9 302.6 376 311.1 388 322.1 398 335 405.5 350 410.6 366 412.8 382.5 412Z"/>
<path fill="#00ff6c" fill-rule="evenodd" d="M741 582 0 582 -0 0 741 -0 741 582ZM376.1 420 388 418.5 399 415.7 410 411.2 420 405.5 429 398.6 437 390.4 443.8 381 448.3 372 452 359 452.5 346 450.9 334 444.8 306 443.7 291 445.1 278 451.6 248 452.5 234 450.3 220 445 207.3 436.3 195 425 184.3 412 175.9 398 170.2 382 166.7 366 166.1 354 167.4 342 170.3 332 174.2 322 179.8 313.8 186 305.9 194 299.4 203 294.1 213 289.9 226 288 240 288.3 254 292.2 293 288.5 333 288.3 346 290.5 362 295.9 377 304.1 390 315 401.3 328 410.1 343 416.3 359 419.6 376.1 420Z"/>
<path fill="#00ff4d" fill-rule="evenodd" d="M741 582 0 582 -0 0 741 -0 741 582ZM379.3 428 392 426 404 422.5 415 417.6 425 411.5 435 403.3 443 394.6 449.7 385 454.6 375 458.1 362 458.6 348 456.9 336 450.1 307 448.9 291 450.5 277 457.8 245 458.6 230 456.2 216 450.1 202 440.8 189 428 176.9 414 168.1 398 161.7 381 158.3 364 157.9 351 159.5 339 162.7 328 167.2 318 173.1 309 180.2 301 188.7 294 198.6 288.7 209 283.9 224 282 239 282.3 253 286.5 293 285.9 306 282.6 335 282.5 349 285 366 291 382.1 300 396.4 312.3 409 327 418.6 343 424.8 361 428 379.3 428Z"/>
<path fill="#00ff2e" fill-rule="evenodd" d="M741 582 0 582 -0 0 741 -0 741 582ZM372.9 438 387 436.7 400 433.7 412 429.1 424 422.6 435 414.4 445 404.5 453 394 459.6 382 464.2 367 465.1 352 463 338 455.3 307 454 290 455.8 276 463.7 244 465.1 229 463 214 457 198.9 447 184 434 170.9 419 160.6 403 153.5 386 149.3 368 148.1 354 149.3 341 152.1 329 156.5 318 162.4 308 169.8 299 178.7 291 189.3 284.5 201 278.5 218 275.7 236 275.9 251 279.7 281 280.4 294 276.3 347 278.3 366 284 383.9 293 400 305 414 319 424.6 335 432.2 353 436.8 372.9 438Z"/>
<path fill="#00ff0f" fill-rule="evenodd" d="M741 582 0 582 -0 0 741 -0 741 582ZM383.7 449 397 446.4 410 441.9 422 435.9 433 428.5 444 418.8 453.4 408 461.5 396 467.2 384 471.2 369 471.6 354 469.2 340 460.5 308 459 291 461.2 275 470.4 240 471.6 222 468.1 205 460.1 188 448 171.7 433 157.7 417 147.5 400 140.6 381 136.8 362 136.4 348 138.3 335 141.8 322 147.4 311 154.2 301 162.7 291.8 173 284 184.7 277.4 198 271.6 216 269 235 269.3 251 273.2 281 273.9 294 270.1 338 270.1 355 273.5 376 281 396 292 413.7 306 428.4 322 439 341 446.3 362 449.7 383.7 449Z"/>
<path fill="#0fff00" fill-rule="evenodd" d="M741 582 0 582 -0 0 741 -0 741 582ZM382.3 465 396 462.3 410 457.3 423 450.6 436 441.3 448 430 458 418.1 467 404.4 473.5 391 478.2 374 478.7 357 476 343 465.8 309 464 291 466.5 274 477.2 237 478.6 227 478.6 218 475.1 200 466.6 181 453 161.7 437 145.7 420 133.8 402 125.7 383 121.2 362 120.3 347 122.3 333 126.1 320 131.8 308 139.5 297.3 149 288 160 279.6 173 272.3 188 265.2 210 261.8 233 262.1 251 266.8 295 263.3 339 263.2 357 266.8 381 274.8 404 286.7 425 301 441.3 309 447.8 318 453.5 338 461.7 360 465.6 382.3 465Z"/>
<path fill="#2eff00" fill-rule="evenodd" d="M741 582 0 582 -0 0 741 -0 741 582ZM379.2 490 394 486.8 408 481.3 422 473.1 436 462.1 450 447.9 462 432.6 472.4 416 480.4 399 485.9 379 486.3 361 483 345 471.3 310 469.4 300 469.1 291 472 273 484.5 234 486.1 224 486.3 214 485.2 204 482.4 193 473 171.2 458 148.1 440 127.8 422 113 403 102.6 383 96.6 363 95.3 347 97.3 332 101.6 318 107.9 305 116.5 294 126.8 285 138.5 276.4 153 268.6 170 258.8 200 255.8 215 254.2 229 254.2 253 258.5 297 256 340 255.9 358 259.3 386 267.4 414 273.3 428 280 441 287 451.7 294 460.1 302 467.6 311 474.1 321 479.6 333 484.6 345 488.1 357 490.2 368 490.8 379.2 490Z"/>
<path fill="#4dff00" fill-rule="evenodd" d="M741 582 0 582 -0 0 741 -0 741 582ZM381.6 541 395 537 408 529.4 421 518.1 434 503.4 450 481.3 466 455.5 479.4 430 488.8 407 494.5 384 495.2 374 494.5 364 490.5 347 476.8 311 474.8 301 474.2 291 475.2 282 477.6 272 492.4 231 494.4 220 494.8 209 493.6 197 490.8 185 486.4 172 480 157.1 460 120.5 436 85.1 419 65.6 403 52.8 395 48.6 386 45.3 377 43.5 368 43.1 356 44.5 344 48 331 53.7 318 61.2 305 70.4 294 80 285 90.2 278 101 272 114 266 131.8 250.9 191 246.2 224 245.3 264 248.2 303 248.1 360 250.1 387 254 410 261.2 441 267 461.1 272.6 475 280.1 487 291 498.5 306 510 329 524.9 345 533.8 358 539 370 541.4 381.6 541Z"/>
<path fill="#6cff00" fill-rule="evenodd" d="M313 582 -0 582 0 -0 282.6 0 272 17 262.8 35 255.9 52 250.7 70 246.6 97 244 151 238.8 204 235.2 253 231.4 267 229 271.6 226 274.9 221 275.9 211 271.1 211 305 211.6 306 211 309.6 221 300.9 224 299.8 227 300.2 230 302.7 233 307.2 237.6 321 239.6 338 240.1 385 244.3 469 246.1 484 249.7 497 254.4 507 261.4 517 288.9 545 299.1 557 307.5 570 313 582ZM741 582 463.4 582 468.9 557 479.5 490 485.2 466 500.6 411 503.7 395 504.8 381 504 369 501.7 358 497.5 346 483.4 314 480.5 303 479.5 293 480.4 283 483 272.8 497.8 238 502.2 224 504.4 209 504.1 193 499.4 168 484.9 118 479.2 94 475.5 70 471 22 466.6 0 741 0 741 582ZM211.6 268 211 267.3 211 268.6 211.6 268ZM211.6 313 211 312.2 211 313.4 211.6 313Z"/>
<path fill="#8bff00" fill-rule="evenodd" d="M262 582 -0 582 0 -0 192.7 0 192.1 7 193.9 15 209.4 46 216.2 68 223 113.8 227.7 160 228.5 223 227.3 245 225.2 253 222 258.5 218 261.5 211 262.3 211 263 211 318.7 220 319.7 225.8 324 229.7 332 231.4 344 231.2 361 227.9 415 221.4 476 221.9 499 224.5 512 229.3 525 236.2 537 255.6 565 260.4 575 262 582ZM741 582 535.7 582 531 556 517 501.3 513.1 477 512.3 449 516.3 394 514.8 373 512.4 363 508.8 353 489 313 486.2 303 485.1 293 486.1 283 488.9 273 508.6 232 512.5 221 515.1 210 517 186 513.7 130 514.6 104 518.7 79 532.4 24 536.2 0 741 0 741 582ZM211.6 322 211 320.6 211 322.3 211.6 322Z"/>
<path fill="#aaff00" fill-rule="evenodd" d="M199 582 -0 582 0 -0 129.8 0 132 14 138.8 28 148.6 40 171 60.8 180 70.8 188.5 84 195.2 100 201.4 121 210 156.2 214.1 177 217.2 200 219.7 226 220 241 217.4 253 214.3 257 211 258.1 211 326 213 325.4 216 326.4 220.3 331 222.8 338 223.5 347 222 365.4 216.9 395 211 421.4 197.8 472 192.8 501 192.3 527 199.3 568 199.8 577 199 582ZM741 582 610.8 582 604.9 564 595.8 545 585.6 528 557 485 545 462 540.2 449 536.7 435 530 387 525.7 369 518.3 352 498 318.3 492.3 303 491.2 290 493.8 277 500.1 263 518.6 232 525.8 216 531.6 197 543.5 146 552 120.1 564.8 93 598.4 35 606.2 17 611.4 0 741 0 741 582Z"/>
<path fill="#c9ff00" fill-rule="evenodd" d="M119 582 -0 582 0 -0 87 0 89.1 12 92.4 23 97.5 34 103.7 44 118 61.2 155.7 98 165 110 173 123.2 186 149.3 197 175.1 204.2 197 210.6 223 213.6 245 212.8 253 210.7 258 210.9 327 214.8 332 216.4 342 215.6 352 213 364.5 204 392.6 192 420.6 173 457.5 146.4 505 138.2 522 131.1 541 119 582ZM741 582 706.7 582 702.6 564 695.2 546 684.3 528 670.7 511 659 499 647 488.6 592 450.2 581 441 572 431.5 565 422 559 411.6 543.5 375 536.3 361 528.4 349 510 324.7 504 315 499.8 305 497.9 295 498.1 288 499.6 281 505.8 267 533.1 229 553 197.3 562 184.7 573 172 617 126.4 664.9 82 684.3 59 693.2 45 700.5 30 705.6 15 708.5 0 741 0 741 582Z"/>
<path fill="#e8ff00" fill-rule="evenodd" d="M41 582 -0 582 0 -0 30.7 0 38.1 23 45.1 40 53.3 55 63.6 69 74.5 81 89.2 95 153 150.8 173 172.1 186 190.8 197 212.4 207.2 240 210.7 259 211.1 339 207 355.4 198 375.7 185 396.7 168 417.4 152 433.1 106.6 473 91.2 489 78.8 504 69.2 518 61.6 532 41 582ZM627 392 614 392.5 602 391.1 592 388.2 582 383.1 567 371.2 522 326.2 510.7 311 507.6 304 505.9 297 505.7 290 507 283 510 275.6 514.6 268 523 257.6 537 243.5 555 227.1 568 217.2 578 211.4 589 206.6 602 202.7 617 199.5 646 196.6 658 197.2 670 199.2 689 205.7 725 224.1 733 226.7 741 228.2 741 364.8 732 365.1 722 366.9 666 384.5 645 389.3 627 392Z"/>
<path fill="#fff700" fill-rule="evenodd" d="M1 439 0 439.4 0 144.7 18 149.6 67 157.8 102 166.4 134 176.3 155 186.4 170 197.7 183 212 198 234.6 210.7 259 210.7 326 205.3 342 198 356.1 186 372.4 172 386.1 156 397.3 138 406.3 113 415.2 80 424.3 57 429 18 434.7 1 439ZM601 348 589 348.3 578 346.4 565 341.7 551 334.4 537 325.1 526.5 316 519.7 307 516.1 298 515.7 290 517.7 282 522 274.5 529 266.5 539 258.3 552 250 565 243.9 577 240.2 591 238.4 605 239.2 619 242.4 632.7 248 645 255.7 655 265 662 275 665.8 285 666.5 295 664.5 304 659.2 314 651.6 323 640.7 332 628 339.6 614 345.2 601 348Z"/>
<path fill="#ffd800" fill-rule="evenodd" d="M128 380 106 378.6 82 373.3 60 365 40.5 354 24.7 341 12.7 326 5.3 310 2.6 294 4.4 278 10.9 262 21.1 248 35.5 235 54 223.6 76.4 214 101 206.9 123 204.1 135 204.5 146 206.6 156 210 166 215.3 175 221.9 184 230 210.6 259 210.7 322 210 327 192 350.8 183 359.5 174 366.2 163 372.3 152 376.4 140 379 128 380ZM583 320.1 572 320.3 560 318.1 548.9 314 539.5 308 534 302 531.2 295 531.7 288 535.5 281 542 275.1 550 270.5 560 267 570 265.3 580 265.2 590 267 598 270 605.7 275 611.3 281 614.5 288 615 295 612.9 302 608 308.7 601.2 314 592.5 318 583 320.1Z"/>
<path fill="#ffb900" fill-rule="evenodd" d="M151 358.1 139 357.4 127 354.4 115 348.8 104.2 341 95.4 332 88 321 83 309 80.7 297 80.8 285 83.5 273 88.3 262 95.8 251 105 241.8 116 234.3 127 229.5 139 227.1 153 227.7 168 232.3 181 239.4 210.5 259 210.5 326 191 342.1 179 349.9 165 355.7 151 358.1Z"/>
<path fill="#ff9b00" fill-rule="evenodd" d="M170 342 161 342.7 152 341.8 144 339.4 135.8 335 128.5 329 122.8 322 118.4 314 115.3 305 113.8 295 114.1 285 115.9 276 119.6 267 125 259 131.1 253 139 248 147 245.2 158 244 169 245.3 181 248.8 203 257.4 210.4 259 210.4 326 184 338 170 342Z"/>
<path fill="#ff7c00" fill-rule="evenodd" d="M180 331 169 331.1 159 328.8 150.1 324 143 317.1 137.7 308 135.1 298 135 288 137.5 278 141.3 271 146.6 265 153 260.7 160 257.9 174 256.3 204 260 208 259.8 210 258.5 209.2 261 210.5 263 210.5 322 209.7 324 210.3 326 204 326.1 180 331Z"/>
<path fill="#ff5d00" fill-rule="evenodd" d="M210 259.7 209.2 259 210 258.6 210 259.7ZM208 324 187 323.8 177 322.4 167.8 319 159.8 313 154.1 304 152 293 154 283 160.1 274 168 268.4 177.8 265 189 263.3 210 262.2 210.5 322 208 324ZM210 326.4 209.1 326 210 325.1 210 326.4Z"/>
<path fill="#ff3e00" fill-rule="evenodd" d="M210 322.8 189 318 178.1 313 173.3 309 170.2 305 168 300 167 294 167.6 289 169.4 284 172.9 279 177.4 275 187 269.9 210 262.3 210 322.8ZM210 326.3 209.4 326 210 325.4 210 326.3Z"/>
<path fill="#ff1f00" fill-rule="evenodd" d="M210 264.3 209.1 263 210 262.4 210 264.3ZM210 322.7 208 320.3 193.6 314 186.4 309 181 302 179 294 180.7 286 186.6 278 195.1 272 208 266 210 266.6 210.2 268 210.4 313 210.1 318 209 320 210 320.4 210 322.7Z"/>
<path fill="#ff0000" fill-rule="evenodd" d="M210 263.9 209.2 263 210 262.5 210 263.9ZM210 318.2 207.9 318 201.8 314 193.4 307 189.5 301 188 294 189.2 287 192.6 281 197.3 276 209 266.9 210 267 209.3 270 210.3 272 210 318.2ZM210 322.5 209.1 322 210 321 210 322.5Z"/>
<circle cx="210.2" cy="260.8" r="1.6" fill="#fff"/><circle cx="210.2" cy="265.3" r="1.6" fill="#fff"/><circle cx="210.2" cy="269.8" r="1.6" fill="#fff"/><circle cx="210.2" cy="274.3" r="1.6" fill="#fff"/><circle cx="210.2" cy="278.7" r="1.6" fill="#fff"/><circle cx="210.2" cy="283.2" r="1.6" fill="#fff"/><circle cx="210.2" cy="287.7" r="1.6" fill="#fff"/><circle cx="210.2" cy="292.2" r="1.6" fill="#fff"/><circle cx="210.2" cy="296.7" r="1.6" fill="#fff"/><circle cx="210.2" cy="301.2" r="1.6" fill="#fff"/><circle cx="210.2" cy="305.7" r="1.6" fill="#fff"/><circle cx="210.2" cy="310.1" r="1.6" fill="#fff"/><circle cx="210.2" cy="314.6" r="1.6" fill="#fff"/><circle cx="210.2" cy="319.1" r="1.6" fill="#fff"/><circle cx="210.2" cy="323.6" r="1.6" fill="#fff"/>
<rect x="21.30" y="22.7" width="11.30" height="43.3" fill="#0000ff"/>
<rect x="32.30" y="22.7" width="21.43" height="43.3" fill="#001fff"/>
<rect x="53.43" y="22.7" width="21.42" height="43.3" fill="#003eff"/>
<rect x="74.55" y="22.7" width="21.43" height="43.3" fill="#005dff"/>
<rect x="95.67" y="22.7" width="21.43" height="43.3" fill="#007cff"/>
<rect x="116.80" y="22.7" width="21.42" height="43.3" fill="#009bff"/>
<rect x="137.92" y="22.7" width="21.43" height="43.3" fill="#00b9ff"/>
<rect x="159.05" y="22.7" width="21.43" height="43.3" fill="#00d8ff"/>
<rect x="180.18" y="22.7" width="21.43" height="43.3" fill="#00f7ff"/>
<rect x="201.30" y="22.7" width="21.43" height="43.3" fill="#00ffe8"/>
<rect x="222.43" y="22.7" width="21.43" height="43.3" fill="#00ffc9"/>
<rect x="243.55" y="22.7" width="21.42" height="43.3" fill="#00ffaa"/>
<rect x="264.67" y="22.7" width="21.43" height="43.3" fill="#00ff8b"/>
<rect x="285.80" y="22.7" width="21.43" height="43.3" fill="#00ff6c"/>
<rect x="306.93" y="22.7" width="21.43" height="43.3" fill="#00ff4d"/>
<rect x="328.05" y="22.7" width="21.42" height="43.3" fill="#00ff2e"/>
<rect x="349.18" y="22.7" width="21.43" height="43.3" fill="#00ff0f"/>
<rect x="370.30" y="22.7" width="21.43" height="43.3" fill="#0fff00"/>
<rect x="391.43" y="22.7" width="21.43" height="43.3" fill="#2eff00"/>
<rect x="412.55" y="22.7" width="21.43" height="43.3" fill="#4dff00"/>
<rect x="433.68" y="22.7" width="21.43" height="43.3" fill="#6cff00"/>
<rect x="454.80" y="22.7" width="21.43" height="43.3" fill="#8bff00"/>
<rect x="475.93" y="22.7" width="21.43" height="43.3" fill="#aaff00"/>
<rect x="497.05" y="22.7" width="21.42" height="43.3" fill="#c9ff00"/>
<rect x="518.17" y="22.7" width="21.43" height="43.3" fill="#e8ff00"/>
<rect x="539.30" y="22.7" width="21.43" height="43.3" fill="#fff700"/>
<rect x="560.42" y="22.7" width="21.43" height="43.3" fill="#ffd800"/>
<rect x="581.55" y="22.7" width="21.43" height="43.3" fill="#ffb900"/>
<rect x="602.67" y="22.7" width="21.43" height="43.3" fill="#ff9b00"/>
<rect x="623.80" y="22.7" width="21.42" height="43.3" fill="#ff7c00"/>
<rect x="644.92" y="22.7" width="21.43" height="43.3" fill="#ff5d00"/>
<rect x="666.05" y="22.7" width="21.43" height="43.3" fill="#ff3e00"/>
<rect x="687.17" y="22.7" width="21.43" height="43.3" fill="#ff1f00"/>
<rect x="708.30" y="22.7" width="10.30" height="43.3" fill="#ff0000"/>
<line x1="32.30" y1="22.7" x2="32.30" y2="66.0" stroke="#1a1a1a" stroke-width="1.2"/>
<line x1="116.80" y1="22.7" x2="116.80" y2="66.0" stroke="#1a1a1a" stroke-width="1.2"/>
<line x1="201.30" y1="22.7" x2="201.30" y2="66.0" stroke="#1a1a1a" stroke-width="1.2"/>
<line x1="285.80" y1="22.7" x2="285.80" y2="66.0" stroke="#1a1a1a" stroke-width="1.2"/>
<line x1="370.30" y1="22.7" x2="370.30" y2="66.0" stroke="#1a1a1a" stroke-width="1.2"/>
<line x1="454.80" y1="22.7" x2="454.80" y2="66.0" stroke="#1a1a1a" stroke-width="1.2"/>
<line x1="539.30" y1="22.7" x2="539.30" y2="66.0" stroke="#1a1a1a" stroke-width="1.2"/>
<line x1="623.80" y1="22.7" x2="623.80" y2="66.0" stroke="#1a1a1a" stroke-width="1.2"/>
<line x1="708.30" y1="22.7" x2="708.30" y2="66.0" stroke="#1a1a1a" stroke-width="1.2"/>
<rect x="21.3" y="22.7" width="697.0" height="43.3" fill="none" stroke="#1a1a1a" stroke-width="1.4"/>
<text x="32.3" y="100.8" text-anchor="middle" class="tk">-0.12</text>
<text x="116.8" y="100.8" text-anchor="middle" class="tk">-0.1</text>
<text x="201.3" y="100.8" text-anchor="middle" class="tk">-0.08</text>
<text x="285.8" y="100.8" text-anchor="middle" class="tk">-0.06</text>
<text x="370.3" y="100.8" text-anchor="middle" class="tk">-0.04</text>
<text x="454.8" y="100.8" text-anchor="middle" class="tk">-0.02</text>
<text x="539.3" y="100.8" text-anchor="middle" class="tk">0</text>
<text x="623.8" y="100.8" text-anchor="middle" class="tk">0.02</text>
<text x="708.3" y="100.8" text-anchor="middle" class="tk">0.04</text>
<text x="2" y="136.5" class="pl">Pressure</text><text transform="translate(106.2 136.5) skewX(-10)" class="pls">/</text><text x="120.6" y="136.5" class="pl">10</text><text x="151" y="127.7" class="sup">3</text><text x="167.3" y="136.5" class="pl">pa</text>
<text x="2.1" y="565.6" class="lb">(b)</text>
<text x="390" y="565.1" class="eq">λ</text>
<text x="415.6" y="565.1" class="eq">=</text>
<text x="442.3" y="565.1" class="eq">0.46</text>
<text x="493.5" y="565.1" class="eq cj">；</text>
<text x="520.6" y="565.1" class="eq it">r</text>
<text x="529.6" y="572.2" class="eq it">v</text>
<text x="535.1" y="552.6" class="eq it">G</text>
<text transform="translate(558.7 571.8) scale(1.5 1.7)" class="sl">/</text>
<text x="577.8" y="565.1" class="eq it">r</text>
<text x="586.3" y="572.2" class="eq it">v</text>
<text x="592.3" y="552.6" class="eq it">SC</text>
<text x="640" y="565.1" class="eq">=</text>
<text x="733.6" y="565.1" text-anchor="end" class="eq">0.703</text>
</svg>
<svg class="pn" style="left:2px;top:593.5px" width="740.5" height="582" viewBox="0 0 740.5 582">
<rect width="741" height="582" fill="#00ffaa"/>
<path fill="#00ff8b" fill-rule="evenodd" d="M741 582 0 582 -0 0 741 -0 741 582ZM417.3 258 420 255.9 420.4 252 418 249.6 415 249.4 412.3 252 412.3 255 414 257.4 417.3 258ZM418.4 335 422.3 332 423 327 420 322.7 415 321.6 410.7 325 409.7 328 410 330.8 413 334.5 418.4 335Z"/>
<path fill="#00ff6c" fill-rule="evenodd" d="M741 582 0 582 -0 0 741 -0 741 582ZM419.6 358 430 355.3 439 350.1 445 344 448.9 336 449.6 330 448.6 323 438.5 300 436.6 291 438.3 282 447.5 261 449.1 251 448.3 246 446.3 241 442.6 236 438 231.8 426 225.9 413 224.3 404 225.8 396 229.8 390 236 386.9 243 386 250 386.7 257 394.8 282 396.1 291 394.6 300 386.9 322 385.6 334 386.6 340 388.7 345 396 352.9 407 357.5 419.6 358Z"/>
<path fill="#00ff4d" fill-rule="evenodd" d="M741 582 0 582 -0 0 741 -0 741 582ZM417.7 373 433 369.4 447.7 362 459.3 352 466.3 341 468.2 333 468 325 459.8 300 458.4 290 459.9 281 467.1 260 468 250 466.3 242 462.7 235 457 228 448.5 221 439 215.6 429 211.8 418 209.5 408 209.2 395 211.7 384.5 217 376.2 225 371.3 235 370 243 370.4 251 377.8 280 379.1 291 377.7 302 370.6 328 369.7 340 370.8 347 373.7 354 378 360 384 365.3 391 369.2 399.3 372 408 373.3 417.7 373Z"/>
<path fill="#00ff2e" fill-rule="evenodd" d="M741 582 0 582 -0 0 741 -0 741 582ZM416.7 389 436 383.4 455 373.3 471.2 360 477.1 353 481.4 346 484.6 337 485.5 327 484.4 318 479.8 299 479.1 289 484.9 261 485.3 250 482.6 239 476.9 229 467.8 219 456 209.8 442 201.7 428 196.3 414 193.3 400 193 385 196.3 372 203.3 362 213.2 358.4 219 355.5 226 353.9 235 354.3 245 363.5 279 364.8 292 362.9 305 354.7 333 353.6 348 355.8 358 360 366.7 366 374.2 374.2 381 384 386 394 388.9 405 390 416.7 389Z"/>
<path fill="#00ff0f" fill-rule="evenodd" d="M741 582 0 582 -0 0 741 -0 741 582ZM406.4 414 417 411.2 428 406.7 441 399.8 454 391.4 467 381.6 478 371.9 487 362 493 353.2 497.8 342 499.7 331 499.5 321 496 291 499.5 261 499.7 251 496.9 237 490 224.1 479 211.3 463 197.6 444 184.9 426 175.9 409 170.8 393 169.5 384 170.7 376 173.2 368 177.2 360 182.9 353 189.8 347 197.6 342.1 206 338.5 215 336.2 227 336.7 240 339.3 251 348.3 277 350.3 292 348 306 337.5 337 336 346 335.9 354 338 366.4 343.1 379 351 391 361 401.4 372 408.9 383 413.2 394 414.9 406.4 414Z"/>
<path fill="#0fff00" fill-rule="evenodd" d="M741 582 0 582 -0 0 741 -0 741 582ZM393.4 461 403 459.3 413 455.5 422 450.2 431 442.9 489 379.7 497.6 369 503.4 360 509.1 347 511.4 334 511.4 323 508.5 291 511.6 251 510.8 242 508.5 233 504.5 224 499 215 484 196.9 448 160.1 431 144.9 415 134.4 400 128.6 385 126.9 375 128.3 365 131.9 356 137.6 348 145.1 340.5 155 333.6 167 327 181.8 321.3 198 317.2 218 317.3 235 320.5 249 331.6 278 333.6 292 331.1 306 319.1 339 317.4 349 317 359 319.3 377 325.4 398 335 420.5 345 436.9 355 447.7 367 455.8 380 460.2 393.4 461Z"/>
<path fill="#2eff00" fill-rule="evenodd" d="M741 582 0 582 -0 0 741 -0 741 582ZM389.2 509 406 506.5 423 500.3 438 491 450.8 479 458 469.5 464.2 459 486.8 410 513.5 367 519.1 353 521.8 338 521.7 326 518.8 291 522 248 520 232 514 216 485.7 171 463.6 127 452 109.4 438 95.3 421 84.4 402 77.6 383 75.6 371 76.8 359 80.1 348 85.2 337 92.3 327.2 101 319.9 110 314 120.3 309.7 132 305.8 150 299 198.2 296.7 228 298.9 246 310.8 279 312.4 287 312.6 294 310.7 305 300.3 338 298.6 350 298.1 364 299.9 390 305.9 439 310.6 457 317.4 471 323.3 479 331.1 487 340 494.1 349.7 500 359 504.2 369 507.2 379 508.8 389.2 509ZM211.2 262 210 260.9 210 262.9 211.2 262ZM213.1 306 220 300.1 224.2 295 227.2 289 228.2 283 227.3 278 224.4 273 218.8 268 212 264.2 209.9 266 210 306.3 213.1 306ZM210.9 310 210 308.8 210 310.4 210.9 310Z"/>
<path fill="#4dff00" fill-rule="evenodd" d="M741 582 0 582 -0 0 741 -0 741 582ZM379.1 551 393 550 408 547.1 423 542.3 437 536.3 449.8 529 460.7 521 470.4 512 479 501.6 487.8 487 494.3 471 507.5 414 512.7 400 524.6 373 528.8 361 531.1 350 531.9 339 527.9 292 531.9 248 530.7 229 525.8 212 507.3 168 495.5 118 487.2 96 479.6 83 469.9 71 458 60.1 445 51.3 430 43.7 413 37.6 397 34 381 32.7 367 33.6 354 36.6 341 41.5 327 49 311 59.9 297.8 71 287.9 82 281.2 93 277.4 104 275.7 116 275.8 131 278.7 168 278.9 187 277.4 210 271.7 262 272.8 271 280.8 291 282.3 302 280.2 342 279.4 401 274.8 457 275.6 472 278.9 485 285 497 293.7 508 306.7 520 323 532 337 540.3 351 546.3 365 549.8 379.1 551ZM210 258 210.8 257 210 256.6 210 258ZM210.6 320 213 317.6 236.7 307 243.7 302 249.6 296 254.7 288 256.8 280 255.7 274 251.5 269 244.6 265 235 262 212 259.2 210 260.3 209.9 315 210.8 317 210 319 210 320.1 210.6 320Z"/>
<path fill="#6cff00" fill-rule="evenodd" d="M342 582 -0 582 0 -0 349.6 0 336 4.2 323 9.8 309 17.5 295 26.6 281 37.4 270 47.4 261.6 57 255 67.1 250.9 76 248.2 85 246.5 95 246.1 105 247.9 124 256 162 258.7 180 259.1 201 256.6 219 250.8 234 247 239.4 242.2 244 227.6 252 217 255.7 210 256.3 209.8 257 210 320.7 212 322 223 321.4 237 322.1 244 323.4 249 325.5 253.6 329 257 333.6 259.7 340 261.6 348 263 368 261.3 392 257.7 413 248.4 453 246 471 246.7 490 251.5 508 256.5 518 263.5 528 272.6 538 284 548.1 299 559.4 313.9 569 329 576.8 342.8 582 342 582ZM741 582 413.7 582 432 576.5 450 569.2 465.1 561 479.4 551 492.6 539 504 525.6 513 511.7 519.7 497 523.6 484 526.2 469 528 426 529.6 411 539.7 369 541.9 355 541.9 337 537.4 305 536.5 291 537.4 277 541.7 248 542.4 235 540.3 216 531.8 183 529 168 526.5 121 524.5 104 519.6 86 512 69.5 503.8 57 493.8 45 482.2 34 470 24.7 457 17 442 10 426 4.4 408.8 0 741 0 741 582ZM210.8 324 210 322.9 210 324.4 210.8 324Z"/>
<path fill="#8bff00" fill-rule="evenodd" d="M270 582 -0 582 0 -0 271.6 0 254 14.4 239.9 30 230 46.2 223.7 64 220.7 85 221.7 107 225.7 128 239.3 177 241.4 192 241.5 206 238.5 222 232.6 235 222.7 247 215.6 253 210 255.9 209.8 257 210 324.7 215.5 325 224.3 328 232.1 332 237.2 336 241.4 341 244.5 347 246.5 354 247.4 362 246.9 377 244 393 227.5 446 222.7 467 220.5 491 222.4 513 228 532.3 237.7 550 251.2 566 270 582ZM741 582 495.9 582 507.7 572 519 560.7 530 547.9 539.5 535 546.1 524 551.1 513 554.6 502 556.7 491 557.6 479 557.2 466 552.2 425 551.2 410 551.6 395 554.1 366 554.2 352 552.5 337 546.4 306 545.3 291 546.5 276 552.3 246 554 232 554.1 217 551.4 186 551.1 171 552.1 156 556.5 122 557.4 106 556.5 92 554 79 549.4 66 543.3 54 533.9 40 521.7 25 508.1 11 495.3 0 741 0 741 582Z"/>
<path fill="#aaff00" fill-rule="evenodd" d="M212 582 -0 582 0 -0 214.2 0 204 14.8 196.9 30 192.7 46 191.2 64 192.7 86 197.5 111 204.2 133 221 177 224.4 190 226.2 203 225.9 218 223 232 217.5 245 209.8 256 209.8 324 210 325.1 215.5 328 220.5 332 227.6 340 231.9 349 233.9 360 232.9 374 228.7 390 207.6 439 199.9 461 194.7 482 191.4 504 190.8 526 193.7 545 200 562 205.7 572 212.9 582 212 582ZM741 582 551 582 572.7 558 584.9 541 592.8 524 596.6 506 596.9 492 594.8 476 590.8 460 579.3 425 575 408.8 572.3 393 568.2 354 557 310 554.8 291 557 272 568.2 228 574.5 175 578.6 159 592.8 114 595.7 99 596.7 85 596 74 594.1 64 590.7 54 586.5 45 573.5 26 550.2 0 741 0 741 582Z"/>
<path fill="#c9ff00" fill-rule="evenodd" d="M154 582 -0 582 0 -0 156.3 0 148.2 18 143.9 36 143.2 54 146.5 73 151.4 87 158.3 102 171.5 126 200 173.1 207 187.8 211.4 201 214 214.2 214.7 228 213.3 243 209.7 256 209.7 324 210 325.6 216.4 334 220.5 343 222.4 353 222 363 219 375.1 212.9 389 167.3 462 153.7 488 146.2 507 142.2 526 142.2 544 145.7 561 154.7 582 154 582ZM741 582 627.2 582 635.6 572 643.1 561 649 550 653.5 539 656.6 528 658.3 517 658.4 507 657.1 497 653.1 484 646.2 470 614 422.2 602.3 401 596 385.2 584.6 350 571 316.6 567.1 303 566 288 568.5 273 585.3 230 600 186 613 161.2 646.7 111 653.4 97 657.2 84 658.4 74 658.1 64 656.3 53 653 42 648.3 31 642 20 626.4 0 741 0 741 582Z"/>
<path fill="#e8ff00" fill-rule="evenodd" d="M82 582 -0 582 0 -0 84.1 0 76.5 21 74.8 31 74.3 42 75.3 53 77.7 64 81.4 75 86.4 86 97.7 104 111.6 120 126.2 133 165 163.1 176 173.5 185 183.7 193.5 196 200 209 205 223.5 208.4 240 209.5 253 209.7 325 212.7 335 213.9 345 213.2 354 210.8 363 202.4 379 189 395.4 167 415.8 113.9 459 99.9 474 88 491 82.2 502 77.5 514 74.3 526 72.9 537 72.9 548 74.3 559 77.3 570 82 582ZM741 12.6 726.4 0 741 -0 741 12.6ZM696 406 680 405.2 664 400.7 649 393 636 382.5 622 365.9 591 320 584.1 306 581.4 293 583 279.3 589.2 265 620 219.2 632 203.9 644 192.8 657 184.7 672 179.1 687 176.9 702 178 716 182.2 729 189.3 741 199.5 741 385.3 731 393.8 720.3 400 708 404.3 696 406ZM741 582 726.7 582 741 570.3 741 582Z"/>
<path fill="#fff700" fill-rule="evenodd" d="M1 437.3 0 437.9 0 141.8 16 149.9 36 156.4 60 161.8 115 172 134 176.7 150 182.5 164 190.1 178 201.5 189 214.9 200 234.2 209.3 256 209.2 334 206.4 348 200 361 191 372 178 382.8 162 392.3 144 400.2 124 406.9 102 412.6 29 426.2 14 431 1 437.3ZM672 333 664 332.9 655 330.9 646 327.1 637 321.7 628 314.4 621 307 616.6 300 614.6 293 615 286.8 617.7 280 622.1 274 629.1 267 638 260.2 647 255 656 251.5 665 249.7 674 249.9 682 251.6 690 255 697 259.7 703.3 266 708 273 710.9 280 712.5 288 712.3 296 710.4 304 707 311.2 702 318.1 695.6 324 688 328.7 680 331.7 672 333Z"/>
<path fill="#ffd800" fill-rule="evenodd" d="M139 376 119 375.7 98.8 372 79.2 365 61.2 355 41.9 340 26.9 324 17.7 309 14.9 301 13.7 294 14.6 281 20.1 267 30.1 253 44.6 239 62.4 226 82.5 215 103 207.3 122 203.6 134 203.3 145 204.6 156 207.9 166 212.8 175 219.1 184 227.4 209 255.4 209.4 257 209.5 324 202 341.5 197 348.9 191 355.5 177 365.6 159 372.8 139 376Z"/>
<path fill="#ffb900" fill-rule="evenodd" d="M160 355 148 354.9 137 352.7 126 348.3 116 341.9 107.5 334 100.1 324 94.6 313 91.2 301 89.9 289 90.7 277 93.8 265 99.1 254 106.4 244 115.4 236 125 230.4 136 226.9 150 226.4 165 230.2 179 237.5 203 253 209 255.9 209.3 257 209 325.6 196 339 186 346.6 173 352.5 160 355Z"/>
<path fill="#ff9b00" fill-rule="evenodd" d="M176 339 167 339.7 159 338.8 151 336.4 144 332.8 137.8 328 132 321.5 127.4 314 124.2 306 122.2 297 121.6 287 122.5 278 125.1 269 129 261.4 134 255.3 140 250.7 147 247.5 156 245.8 167 246.3 203 255.9 209 256.2 209 325.1 189 335.2 176 339Z"/>
<path fill="#ff7c00" fill-rule="evenodd" d="M183 328 174 327.4 165 324.6 157.3 320 151.5 314 146.9 306 144.4 297 144.2 288 146.2 279 149.3 273 153 268.6 158 264.7 164 261.9 178.6 259 206 258.4 209 256.5 208.4 259 209.3 266 209 324.8 205 324.6 183 328Z"/>
<path fill="#ff5d00" fill-rule="evenodd" d="M209 324.5 207 322.6 186 319.8 175.3 315 170.5 311 166.7 306 164.2 300 163.2 294 163.8 288 166 282 169.5 277 173.8 273 187.3 266 208 260.3 209 260.5 209.3 266 209.2 319 208.2 322 209 324.5Z"/>
<path fill="#ff3e00" fill-rule="evenodd" d="M209 320.5 195.3 316 185.8 310 179.9 302 178.1 293 179.9 285 185.2 277 192.4 271 206.9 263 209 260.8 208.3 264 209.2 266 209 320.5Z"/>
<path fill="#ff1f00" fill-rule="evenodd" d="M207 317.3 198.6 312 192.7 306 189.2 299 188.4 292 190 285 194.1 278 200.9 271 206.9 266 209 265.3 209.2 315 207 317.3ZM209 320.1 207.7 319 208 317 209 317.9 209 320.1Z"/>
<path fill="#ff0000" fill-rule="evenodd" d="M209 267.4 208.3 266 209 265.6 209 267.4ZM209 315.6 207.4 315 199.3 305 196.6 299 195.8 293 196.6 287 199 281 202.9 275 208 269.9 209.1 271 209 315.6Z"/>
<circle cx="210.2" cy="260.8" r="1.6" fill="#fff"/><circle cx="210.2" cy="266.5" r="1.6" fill="#fff"/><circle cx="210.2" cy="272.2" r="1.6" fill="#fff"/><circle cx="210.2" cy="277.9" r="1.6" fill="#fff"/><circle cx="210.2" cy="283.6" r="1.6" fill="#fff"/><circle cx="210.2" cy="289.3" r="1.6" fill="#fff"/><circle cx="210.2" cy="295.1" r="1.6" fill="#fff"/><circle cx="210.2" cy="300.8" r="1.6" fill="#fff"/><circle cx="210.2" cy="306.5" r="1.6" fill="#fff"/><circle cx="210.2" cy="312.2" r="1.6" fill="#fff"/><circle cx="210.2" cy="317.9" r="1.6" fill="#fff"/><circle cx="210.2" cy="323.6" r="1.6" fill="#fff"/>
<rect x="21.30" y="22.7" width="11.30" height="43.3" fill="#0000ff"/>
<rect x="32.30" y="22.7" width="21.43" height="43.3" fill="#001fff"/>
<rect x="53.43" y="22.7" width="21.42" height="43.3" fill="#003eff"/>
<rect x="74.55" y="22.7" width="21.43" height="43.3" fill="#005dff"/>
<rect x="95.67" y="22.7" width="21.43" height="43.3" fill="#007cff"/>
<rect x="116.80" y="22.7" width="21.42" height="43.3" fill="#009bff"/>
<rect x="137.92" y="22.7" width="21.43" height="43.3" fill="#00b9ff"/>
<rect x="159.05" y="22.7" width="21.43" height="43.3" fill="#00d8ff"/>
<rect x="180.18" y="22.7" width="21.43" height="43.3" fill="#00f7ff"/>
<rect x="201.30" y="22.7" width="21.43" height="43.3" fill="#00ffe8"/>
<rect x="222.43" y="22.7" width="21.43" height="43.3" fill="#00ffc9"/>
<rect x="243.55" y="22.7" width="21.42" height="43.3" fill="#00ffaa"/>
<rect x="264.67" y="22.7" width="21.43" height="43.3" fill="#00ff8b"/>
<rect x="285.80" y="22.7" width="21.43" height="43.3" fill="#00ff6c"/>
<rect x="306.93" y="22.7" width="21.43" height="43.3" fill="#00ff4d"/>
<rect x="328.05" y="22.7" width="21.42" height="43.3" fill="#00ff2e"/>
<rect x="349.18" y="22.7" width="21.43" height="43.3" fill="#00ff0f"/>
<rect x="370.30" y="22.7" width="21.43" height="43.3" fill="#0fff00"/>
<rect x="391.43" y="22.7" width="21.43" height="43.3" fill="#2eff00"/>
<rect x="412.55" y="22.7" width="21.43" height="43.3" fill="#4dff00"/>
<rect x="433.68" y="22.7" width="21.43" height="43.3" fill="#6cff00"/>
<rect x="454.80" y="22.7" width="21.43" height="43.3" fill="#8bff00"/>
<rect x="475.93" y="22.7" width="21.43" height="43.3" fill="#aaff00"/>
<rect x="497.05" y="22.7" width="21.42" height="43.3" fill="#c9ff00"/>
<rect x="518.17" y="22.7" width="21.43" height="43.3" fill="#e8ff00"/>
<rect x="539.30" y="22.7" width="21.43" height="43.3" fill="#fff700"/>
<rect x="560.42" y="22.7" width="21.43" height="43.3" fill="#ffd800"/>
<rect x="581.55" y="22.7" width="21.43" height="43.3" fill="#ffb900"/>
<rect x="602.67" y="22.7" width="21.43" height="43.3" fill="#ff9b00"/>
<rect x="623.80" y="22.7" width="21.42" height="43.3" fill="#ff7c00"/>
<rect x="644.92" y="22.7" width="21.43" height="43.3" fill="#ff5d00"/>
<rect x="666.05" y="22.7" width="21.43" height="43.3" fill="#ff3e00"/>
<rect x="687.17" y="22.7" width="21.43" height="43.3" fill="#ff1f00"/>
<rect x="708.30" y="22.7" width="10.30" height="43.3" fill="#ff0000"/>
<line x1="32.30" y1="22.7" x2="32.30" y2="66.0" stroke="#1a1a1a" stroke-width="1.2"/>
<line x1="116.80" y1="22.7" x2="116.80" y2="66.0" stroke="#1a1a1a" stroke-width="1.2"/>
<line x1="201.30" y1="22.7" x2="201.30" y2="66.0" stroke="#1a1a1a" stroke-width="1.2"/>
<line x1="285.80" y1="22.7" x2="285.80" y2="66.0" stroke="#1a1a1a" stroke-width="1.2"/>
<line x1="370.30" y1="22.7" x2="370.30" y2="66.0" stroke="#1a1a1a" stroke-width="1.2"/>
<line x1="454.80" y1="22.7" x2="454.80" y2="66.0" stroke="#1a1a1a" stroke-width="1.2"/>
<line x1="539.30" y1="22.7" x2="539.30" y2="66.0" stroke="#1a1a1a" stroke-width="1.2"/>
<line x1="623.80" y1="22.7" x2="623.80" y2="66.0" stroke="#1a1a1a" stroke-width="1.2"/>
<line x1="708.30" y1="22.7" x2="708.30" y2="66.0" stroke="#1a1a1a" stroke-width="1.2"/>
<rect x="21.3" y="22.7" width="697.0" height="43.3" fill="none" stroke="#1a1a1a" stroke-width="1.4"/>
<text x="32.3" y="100.8" text-anchor="middle" class="tk">-0.12</text>
<text x="116.8" y="100.8" text-anchor="middle" class="tk">-0.1</text>
<text x="201.3" y="100.8" text-anchor="middle" class="tk">-0.08</text>
<text x="285.8" y="100.8" text-anchor="middle" class="tk">-0.06</text>
<text x="370.3" y="100.8" text-anchor="middle" class="tk">-0.04</text>
<text x="454.8" y="100.8" text-anchor="middle" class="tk">-0.02</text>
<text x="539.3" y="100.8" text-anchor="middle" class="tk">0</text>
<text x="623.8" y="100.8" text-anchor="middle" class="tk">0.02</text>
<text x="708.3" y="100.8" text-anchor="middle" class="tk">0.04</text>
<text x="2" y="136.5" class="pl">Pressure</text><text transform="translate(106.2 136.5) skewX(-10)" class="pls">/</text><text x="120.6" y="136.5" class="pl">10</text><text x="151" y="127.7" class="sup">3</text><text x="167.3" y="136.5" class="pl">pa</text>
<text x="2.1" y="565.6" class="lb">(c)</text>
<text x="390" y="565.1" class="eq">λ</text>
<text x="415.6" y="565.1" class="eq">=</text>
<text x="442.3" y="565.1" class="eq">0.73</text>
<text x="493.5" y="565.1" class="eq cj">；</text>
<text x="520.6" y="565.1" class="eq it">r</text>
<text x="529.6" y="572.2" class="eq it">v</text>
<text x="535.1" y="552.6" class="eq it">G</text>
<text transform="translate(558.7 571.8) scale(1.5 1.7)" class="sl">/</text>
<text x="577.8" y="565.1" class="eq it">r</text>
<text x="586.3" y="572.2" class="eq it">v</text>
<text x="592.3" y="552.6" class="eq it">SC</text>
<text x="640" y="565.1" class="eq">=</text>
<text x="733.6" y="565.1" text-anchor="end" class="eq">0.837</text>
</svg>
<svg class="pn" style="left:753.5px;top:593.5px" width="740.5" height="582" viewBox="0 0 740.5 582">
<rect width="741" height="582" fill="#4dff00"/>
<path fill="#6cff00" fill-rule="evenodd" d="M741 582 0 582 -0 0 741 -0 741 582ZM591.5 386 606 381.9 618 374.7 628 364 634.6 351 637.8 339 639.4 324 639 257 637.1 243 633.7 232 628.5 222 621 213 612 206.1 601 200.9 590 198.4 578 198.1 564 200.8 550 207 537.5 216 525.3 229 513.8 246 504.6 265 500 281 499.2 296 502.5 313 509.9 331 521.3 350 534 365 547 375.5 561 382.6 576 386.3 591.5 386ZM262.4 339 271 336.6 279 331.4 284.8 324 288.2 315 290.2 300 289.9 280 287.5 267 283.2 258 278 252.2 272 248.4 265 246.2 257 245.5 241 248.1 215 257.8 210 258.8 210 324.8 242 337 253 339.1 262.4 339Z"/>
<path fill="#8bff00" fill-rule="evenodd" d="M741 582 0 582 -0 0 741 -0 741 582ZM575.7 469 594 465.8 611 459.5 628 449.9 644 437 656 423.5 664.8 409 670.8 393 674.4 374 675.8 351 674.5 293 675.9 236 674.9 217 672.1 200 664.9 179 659.6 169 653 159.3 637 142.3 627 134.4 617 128 603 121.2 589 116.8 575 114.4 560 114 541 115.6 513 120.4 484 126.4 461 132.8 433 143.2 401 157.7 379 169.7 344 191.4 329 199 312 204.8 277 212.8 260 219.5 241 231.7 210 258 210 325.5 236 348.9 254 361.5 264 366.5 274 370.2 315 379.1 334 385.6 350.7 394 412 429.3 436 440.8 457 448.9 485 456.5 536 466.3 558 469 575.7 469Z"/>
<path fill="#aaff00" fill-rule="evenodd" d="M555 582 -0 582 0 -0 559 0 528.7 19 512.4 27 493 32.8 455 38.6 438 42.8 419 51.2 400 63.7 382 78.4 362 97 301.1 160 262 191.7 250 202.8 240 214.2 230 227.9 210 257.4 209.8 261 209.7 325 231 358.2 241 371.5 252 383.4 305.2 427 355 479 377 500.5 404 523 416 530.9 427 536.8 448 543.9 489 550.3 508 555.2 528 564.5 555.8 582 555 582ZM741 582 644.1 582 660 573.5 675.4 563 689.5 551 702 537.7 713 523 722.3 507 729.2 491 733.7 475 735.8 456 734.3 438 730.6 422 716.2 378 709.5 352 704.6 322 703.1 293 704.5 268 708.7 241 715.7 213 732.3 160 735.2 145 736.1 131 734.3 112 729.2 93 720.9 74 709.2 55 695 37.6 679 22.5 661.7 10 642.9 0 741 0 741 582Z"/>
<path fill="#c9ff00" fill-rule="evenodd" d="M337 582 -0 582 0 -0 339.3 0 327.8 15 317.6 32 270.5 132 236 192.4 228 210.1 209.6 258 209.7 326 226 369.9 238 395.8 261.3 435 272.1 455 316.5 550 325.2 565 337.6 582 337 582ZM741 362.6 731.7 349 724.5 332 720 313 718.5 293 720.1 273 724.6 254 731.8 237 741 223.6 741 362.6Z"/>
<path fill="#e8ff00" fill-rule="evenodd" d="M247 582 -0 582 0 -0 247.7 0 243.9 15 240.6 34 228.8 135 219.8 188 213.7 234 209.4 258 209.4 326 218.7 391 228.7 449 240.4 549 247 582ZM741 338.5 735.3 329 731 318 728.4 306 727.4 293 728.2 280 730.7 268 735.3 256 741 246.6 741 338.5Z"/>
<path fill="#fff700" fill-rule="evenodd" d="M169 582 -0 582 0 -0 169.4 0 168.2 19 161.4 59 161 70 161.8 81 167.4 105 192.4 170 200 194.1 206 217.3 209.2 241 209.7 305 208.4 346 202 379.5 191 416.6 167.3 477 161.6 500 160.5 512 160.9 524 168.1 565 169 582ZM741 323.7 735.3 309 733.3 292 735.5 275 741 260.9 741 323.7Z"/>
<path fill="#ffd800" fill-rule="evenodd" d="M1 427.1 0 427.2 0 157.7 70 165.5 103 171.8 122 177.3 140 184.3 156 192.2 169 200.5 183 212.8 194 226.4 203 242.1 209.5 259 209.4 324 201 343.6 189 362.6 177 376.3 164 387 149 395.6 130 403.3 108 409.7 82 415.2 1 427.1ZM741 311.2 738.6 302 737.8 292 738.7 282 741 273.2 741 311.2Z"/>
<path fill="#ffb900" fill-rule="evenodd" d="M149 359 135 358 122 354.3 109.4 348 98 339.4 88.4 329 81 317 76.7 305 75.2 292 76.7 280 81 268 88.5 256 97.8 246 109.9 237 123 230.5 136 226.8 150 225.4 166 227.5 181 233.5 195 243.4 209 258.1 209.6 319 209 325.2 196 338.1 185 346.6 176 351.9 167 355.7 158 358 149 359Z"/>
<path fill="#ff9b00" fill-rule="evenodd" d="M178 336.1 168 336.7 159 335.5 151 332.9 143 328.5 136.6 323 131 316 127 308 124.7 299 124.3 290 125.8 281 128.9 273 133.9 265 140.4 258 148 252.6 156 248.9 165 246.7 175 246.3 186 248.2 196 251.8 209.3 259 209 324.8 192 332.6 178 336.1Z"/>
<path fill="#ff7c00" fill-rule="evenodd" d="M195 326 180 325 173.4 323 167 319.7 161.2 315 157 310 153.8 304 152.1 298 151.5 291 152.4 284 154.4 278 157.9 272 162.3 267 168 262.6 174 259.6 181 257.5 193 256.7 209.3 259 209.1 324 195 326Z"/>
<path fill="#ff5d00" fill-rule="evenodd" d="M209 259.8 208.2 259 209 258.6 209 259.8ZM208 323 192 320.5 186 318 180 314 175.1 309 172 304 169.8 298 169 291 170 284 172.3 278 175.7 273 180.9 268 192 262.4 208 260.1 209.2 262 209.5 305 209.2 322 208 323Z"/>
<path fill="#ff3e00" fill-rule="evenodd" d="M209 322.4 196 317 188.6 311 183 302 180.9 292 182.8 281 188.3 272 195.9 266 208 261.3 209.2 262 209.4 270 209 322.4Z"/>
<path fill="#ff1f00" fill-rule="evenodd" d="M209 262.6 208.2 262 209 261.6 209 262.6ZM209 319.8 207 319.7 202.3 317 195.1 310 191.3 302 189.8 292 190.9 282 194.3 274 199.7 268 208 263.2 209 264.1 209.3 270 209 319.8Z"/>
<path fill="#ff0000" fill-rule="evenodd" d="M209 319.6 202.1 313 198.7 307 197.5 301 197.2 284 197.9 278 199.9 273 204.1 268 209 264.5 208.4 266 209.3 270 209.2 316 208.4 317 209 319.6Z"/>
<circle cx="210.2" cy="260.8" r="1.6" fill="#fff"/><circle cx="210.2" cy="267.8" r="1.6" fill="#fff"/><circle cx="210.2" cy="274.8" r="1.6" fill="#fff"/><circle cx="210.2" cy="281.7" r="1.6" fill="#fff"/><circle cx="210.2" cy="288.7" r="1.6" fill="#fff"/><circle cx="210.2" cy="295.7" r="1.6" fill="#fff"/><circle cx="210.2" cy="302.7" r="1.6" fill="#fff"/><circle cx="210.2" cy="309.6" r="1.6" fill="#fff"/><circle cx="210.2" cy="316.6" r="1.6" fill="#fff"/><circle cx="210.2" cy="323.6" r="1.6" fill="#fff"/>
<rect x="21.30" y="22.7" width="11.30" height="43.3" fill="#0000ff"/>
<rect x="32.30" y="22.7" width="21.43" height="43.3" fill="#001fff"/>
<rect x="53.43" y="22.7" width="21.42" height="43.3" fill="#003eff"/>
<rect x="74.55" y="22.7" width="21.43" height="43.3" fill="#005dff"/>
<rect x="95.67" y="22.7" width="21.43" height="43.3" fill="#007cff"/>
<rect x="116.80" y="22.7" width="21.42" height="43.3" fill="#009bff"/>
<rect x="137.92" y="22.7" width="21.43" height="43.3" fill="#00b9ff"/>
<rect x="159.05" y="22.7" width="21.43" height="43.3" fill="#00d8ff"/>
<rect x="180.18" y="22.7" width="21.43" height="43.3" fill="#00f7ff"/>
<rect x="201.30" y="22.7" width="21.43" height="43.3" fill="#00ffe8"/>
<rect x="222.43" y="22.7" width="21.43" height="43.3" fill="#00ffc9"/>
<rect x="243.55" y="22.7" width="21.42" height="43.3" fill="#00ffaa"/>
<rect x="264.67" y="22.7" width="21.43" height="43.3" fill="#00ff8b"/>
<rect x="285.80" y="22.7" width="21.43" height="43.3" fill="#00ff6c"/>
<rect x="306.93" y="22.7" width="21.43" height="43.3" fill="#00ff4d"/>
<rect x="328.05" y="22.7" width="21.42" height="43.3" fill="#00ff2e"/>
<rect x="349.18" y="22.7" width="21.43" height="43.3" fill="#00ff0f"/>
<rect x="370.30" y="22.7" width="21.43" height="43.3" fill="#0fff00"/>
<rect x="391.43" y="22.7" width="21.43" height="43.3" fill="#2eff00"/>
<rect x="412.55" y="22.7" width="21.43" height="43.3" fill="#4dff00"/>
<rect x="433.68" y="22.7" width="21.43" height="43.3" fill="#6cff00"/>
<rect x="454.80" y="22.7" width="21.43" height="43.3" fill="#8bff00"/>
<rect x="475.93" y="22.7" width="21.43" height="43.3" fill="#aaff00"/>
<rect x="497.05" y="22.7" width="21.42" height="43.3" fill="#c9ff00"/>
<rect x="518.17" y="22.7" width="21.43" height="43.3" fill="#e8ff00"/>
<rect x="539.30" y="22.7" width="21.43" height="43.3" fill="#fff700"/>
<rect x="560.42" y="22.7" width="21.43" height="43.3" fill="#ffd800"/>
<rect x="581.55" y="22.7" width="21.43" height="43.3" fill="#ffb900"/>
<rect x="602.67" y="22.7" width="21.43" height="43.3" fill="#ff9b00"/>
<rect x="623.80" y="22.7" width="21.42" height="43.3" fill="#ff7c00"/>
<rect x="644.92" y="22.7" width="21.43" height="43.3" fill="#ff5d00"/>
<rect x="666.05" y="22.7" width="21.43" height="43.3" fill="#ff3e00"/>
<rect x="687.17" y="22.7" width="21.43" height="43.3" fill="#ff1f00"/>
<rect x="708.30" y="22.7" width="10.30" height="43.3" fill="#ff0000"/>
<line x1="32.30" y1="22.7" x2="32.30" y2="66.0" stroke="#1a1a1a" stroke-width="1.2"/>
<line x1="116.80" y1="22.7" x2="116.80" y2="66.0" stroke="#1a1a1a" stroke-width="1.2"/>
<line x1="201.30" y1="22.7" x2="201.30" y2="66.0" stroke="#1a1a1a" stroke-width="1.2"/>
<line x1="285.80" y1="22.7" x2="285.80" y2="66.0" stroke="#1a1a1a" stroke-width="1.2"/>
<line x1="370.30" y1="22.7" x2="370.30" y2="66.0" stroke="#1a1a1a" stroke-width="1.2"/>
<line x1="454.80" y1="22.7" x2="454.80" y2="66.0" stroke="#1a1a1a" stroke-width="1.2"/>
<line x1="539.30" y1="22.7" x2="539.30" y2="66.0" stroke="#1a1a1a" stroke-width="1.2"/>
<line x1="623.80" y1="22.7" x2="623.80" y2="66.0" stroke="#1a1a1a" stroke-width="1.2"/>
<line x1="708.30" y1="22.7" x2="708.30" y2="66.0" stroke="#1a1a1a" stroke-width="1.2"/>
<rect x="21.3" y="22.7" width="697.0" height="43.3" fill="none" stroke="#1a1a1a" stroke-width="1.4"/>
<text x="32.3" y="100.8" text-anchor="middle" class="tk">-0.12</text>
<text x="116.8" y="100.8" text-anchor="middle" class="tk">-0.1</text>
<text x="201.3" y="100.8" text-anchor="middle" class="tk">-0.08</text>
<text x="285.8" y="100.8" text-anchor="middle" class="tk">-0.06</text>
<text x="370.3" y="100.8" text-anchor="middle" class="tk">-0.04</text>
<text x="454.8" y="100.8" text-anchor="middle" class="tk">-0.02</text>
<text x="539.3" y="100.8" text-anchor="middle" class="tk">0</text>
<text x="623.8" y="100.8" text-anchor="middle" class="tk">0.02</text>
<text x="708.3" y="100.8" text-anchor="middle" class="tk">0.04</text>
<text x="2" y="136.5" class="pl">Pressure</text><text transform="translate(106.2 136.5) skewX(-10)" class="pls">/</text><text x="120.6" y="136.5" class="pl">10</text><text x="151" y="127.7" class="sup">3</text><text x="167.3" y="136.5" class="pl">pa</text>
<text x="2.1" y="565.6" class="lb">(d)</text>
<text x="390" y="565.1" class="eq">λ</text>
<text x="415.6" y="565.1" class="eq">=</text>
<text x="442.3" y="565.1" class="eq">1.11</text>
<text x="493.5" y="565.1" class="eq cj">；</text>
<text x="520.6" y="565.1" class="eq it">r</text>
<text x="529.6" y="572.2" class="eq it">v</text>
<text x="535.1" y="552.6" class="eq it">G</text>
<text transform="translate(558.7 571.8) scale(1.5 1.7)" class="sl">/</text>
<text x="577.8" y="565.1" class="eq it">r</text>
<text x="586.3" y="572.2" class="eq it">v</text>
<text x="592.3" y="552.6" class="eq it">SC</text>
<text x="640" y="565.1" class="eq">=</text>
<text x="733.6" y="565.1" text-anchor="end" class="eq">0.917</text>
</svg>
<svg class="pn" style="left:2px;top:1184.5px" width="740.5" height="582" viewBox="0 0 740.5 582">
<rect width="741" height="582" fill="#c9ff00"/>
<path fill="#e8ff00" fill-rule="evenodd" d="M741 582 0 582 -0 0 741 -0 741 582ZM251 335 260 332.5 269 328.1 276 322.9 282.2 316 286.8 308 289.3 300 290.2 291 288.9 282 285.9 274 280.6 266 273.5 259 265.7 254 257 250.5 247 248.4 237 248.3 228 249.9 220 252.8 209 258.7 209 325.3 220 331.2 230 334.6 240 335.8 251 335Z"/>
<path fill="#fff700" fill-rule="evenodd" d="M741 582 0 582 -0 0 741 -0 741 582ZM441.8 415 461 412.4 478 408 493 401.6 506.6 393 518.8 382 529 369.1 537.5 354 543.8 338 548.7 318 550.7 298 550.2 278 547.1 258 541.4 239 533.4 222 523.1 207 511.6 195 499.4 186 486 179 471.5 174 455 170.5 436 168.6 414 168.2 389 169.3 362 171.8 339 175.2 318 179.5 299 184.8 281 191.4 265 199.1 251 207.7 238 217.9 227 229.1 217 242.7 209 258 208.8 325 214 336.1 221 347.3 230 358.2 240 367.8 256 379.6 275 389.9 296 398.2 320 405 349 410.4 382 414.2 415 415.8 441.8 415Z"/>
<path fill="#ffd800" fill-rule="evenodd" d="M247 582 -0 582 0 -0 247.6 0 236.3 79 215 202.3 208.6 258 208.6 326 211.4 355 217.4 397 237.6 513 247 582Z"/>
<path fill="#ffb900" fill-rule="evenodd" d="M7 476 0 476.8 0 107.2 38 113.6 57 118.8 75 125 93 132.5 109 140.6 124 149.4 139 159.8 153 171.3 165 182.8 176 195.3 186 208.8 194 222.1 201 236.8 208 257.2 208.7 264 208.5 325 206 333.4 199 351.8 190 368.9 179 384.9 166 400.1 151 414.5 134 427.8 116 439.5 96 450.1 75 459 53 466.4 30 472.1 7 476Z"/>
<path fill="#ff9b00" fill-rule="evenodd" d="M159 353 146 352.9 134 350.5 122 345.6 111.9 339 103.5 331 96.4 321 91.6 310 89.1 298 89.1 286 91.6 274 96.4 263 103 253.6 111.9 245 122 238.4 134 233.5 146 231.1 164 231.6 181 236.6 189 240.9 196 245.9 208.3 259 208 325.8 197 337.2 186 344.9 173 350.4 159 353Z"/>
<path fill="#ff7c00" fill-rule="evenodd" d="M190 331.1 182 331.3 174.2 330 167 327.3 160.1 323 154 317.2 149.7 311 146.6 304 145 297 144.8 289 146 282 148.6 275 153 268 158 262.7 164.6 258 172 254.7 179 253 186 252.6 193 253.4 208.2 259 208.2 325 198 329.3 190 331.1Z"/>
<path fill="#ff5d00" fill-rule="evenodd" d="M208 325.1 193 323.7 183 319.3 174.6 311 169.6 300 168.7 294 169 287 170.5 281 173.3 275 176.9 270 182 265.4 187 262.4 193 260.3 208 259 208 325.1Z"/>
<path fill="#ff3e00" fill-rule="evenodd" d="M208 322.9 198.1 320 190.4 314 185.1 305 182.9 293 184.4 281 189.5 271 196.3 265 207 261 208 261.1 208.4 269 208 322.9Z"/>
<path fill="#ff1f00" fill-rule="evenodd" d="M207 321.1 200.5 317 196.5 312 194.3 306 193.6 298 193.7 282 195.1 275 199.5 268 207 262.9 208.2 264 208.4 276 208.2 320 207 321.1Z"/>
<path fill="#ff0000" fill-rule="evenodd" d="M208 264.9 207.3 264 208 263.6 208 264.9ZM208 289.2 205 287.4 202.3 284 200.2 277 202.3 270 205.9 266 208 265.1 208 289.2ZM208 318.9 205.9 318 202.3 314 200.2 307 202.3 300 205 296.6 208 294.8 208 318.9ZM208 320.4 207.3 320 208 319.1 208 320.4Z"/>
<circle cx="210.2" cy="260.8" r="1.6" fill="#fff"/><circle cx="210.2" cy="269.8" r="1.6" fill="#fff"/><circle cx="210.2" cy="278.7" r="1.6" fill="#fff"/><circle cx="210.2" cy="287.7" r="1.6" fill="#fff"/><circle cx="210.2" cy="296.7" r="1.6" fill="#fff"/><circle cx="210.2" cy="305.7" r="1.6" fill="#fff"/><circle cx="210.2" cy="314.6" r="1.6" fill="#fff"/><circle cx="210.2" cy="323.6" r="1.6" fill="#fff"/>
<rect x="21.30" y="22.7" width="11.30" height="43.3" fill="#0000ff"/>
<rect x="32.30" y="22.7" width="21.43" height="43.3" fill="#001fff"/>
<rect x="53.43" y="22.7" width="21.42" height="43.3" fill="#003eff"/>
<rect x="74.55" y="22.7" width="21.43" height="43.3" fill="#005dff"/>
<rect x="95.67" y="22.7" width="21.43" height="43.3" fill="#007cff"/>
<rect x="116.80" y="22.7" width="21.42" height="43.3" fill="#009bff"/>
<rect x="137.92" y="22.7" width="21.43" height="43.3" fill="#00b9ff"/>
<rect x="159.05" y="22.7" width="21.43" height="43.3" fill="#00d8ff"/>
<rect x="180.18" y="22.7" width="21.43" height="43.3" fill="#00f7ff"/>
<rect x="201.30" y="22.7" width="21.43" height="43.3" fill="#00ffe8"/>
<rect x="222.43" y="22.7" width="21.43" height="43.3" fill="#00ffc9"/>
<rect x="243.55" y="22.7" width="21.42" height="43.3" fill="#00ffaa"/>
<rect x="264.67" y="22.7" width="21.43" height="43.3" fill="#00ff8b"/>
<rect x="285.80" y="22.7" width="21.43" height="43.3" fill="#00ff6c"/>
<rect x="306.93" y="22.7" width="21.43" height="43.3" fill="#00ff4d"/>
<rect x="328.05" y="22.7" width="21.42" height="43.3" fill="#00ff2e"/>
<rect x="349.18" y="22.7" width="21.43" height="43.3" fill="#00ff0f"/>
<rect x="370.30" y="22.7" width="21.43" height="43.3" fill="#0fff00"/>
<rect x="391.43" y="22.7" width="21.43" height="43.3" fill="#2eff00"/>
<rect x="412.55" y="22.7" width="21.43" height="43.3" fill="#4dff00"/>
<rect x="433.68" y="22.7" width="21.43" height="43.3" fill="#6cff00"/>
<rect x="454.80" y="22.7" width="21.43" height="43.3" fill="#8bff00"/>
<rect x="475.93" y="22.7" width="21.43" height="43.3" fill="#aaff00"/>
<rect x="497.05" y="22.7" width="21.42" height="43.3" fill="#c9ff00"/>
<rect x="518.17" y="22.7" width="21.43" height="43.3" fill="#e8ff00"/>
<rect x="539.30" y="22.7" width="21.43" height="43.3" fill="#fff700"/>
<rect x="560.42" y="22.7" width="21.43" height="43.3" fill="#ffd800"/>
<rect x="581.55" y="22.7" width="21.43" height="43.3" fill="#ffb900"/>
<rect x="602.67" y="22.7" width="21.43" height="43.3" fill="#ff9b00"/>
<rect x="623.80" y="22.7" width="21.42" height="43.3" fill="#ff7c00"/>
<rect x="644.92" y="22.7" width="21.43" height="43.3" fill="#ff5d00"/>
<rect x="666.05" y="22.7" width="21.43" height="43.3" fill="#ff3e00"/>
<rect x="687.17" y="22.7" width="21.43" height="43.3" fill="#ff1f00"/>
<rect x="708.30" y="22.7" width="10.30" height="43.3" fill="#ff0000"/>
<line x1="32.30" y1="22.7" x2="32.30" y2="66.0" stroke="#1a1a1a" stroke-width="1.2"/>
<line x1="116.80" y1="22.7" x2="116.80" y2="66.0" stroke="#1a1a1a" stroke-width="1.2"/>
<line x1="201.30" y1="22.7" x2="201.30" y2="66.0" stroke="#1a1a1a" stroke-width="1.2"/>
<line x1="285.80" y1="22.7" x2="285.80" y2="66.0" stroke="#1a1a1a" stroke-width="1.2"/>
<line x1="370.30" y1="22.7" x2="370.30" y2="66.0" stroke="#1a1a1a" stroke-width="1.2"/>
<line x1="454.80" y1="22.7" x2="454.80" y2="66.0" stroke="#1a1a1a" stroke-width="1.2"/>
<line x1="539.30" y1="22.7" x2="539.30" y2="66.0" stroke="#1a1a1a" stroke-width="1.2"/>
<line x1="623.80" y1="22.7" x2="623.80" y2="66.0" stroke="#1a1a1a" stroke-width="1.2"/>
<line x1="708.30" y1="22.7" x2="708.30" y2="66.0" stroke="#1a1a1a" stroke-width="1.2"/>
<rect x="21.3" y="22.7" width="697.0" height="43.3" fill="none" stroke="#1a1a1a" stroke-width="1.4"/>
<text x="32.3" y="100.8" text-anchor="middle" class="tk">-0.12</text>
<text x="116.8" y="100.8" text-anchor="middle" class="tk">-0.1</text>
<text x="201.3" y="100.8" text-anchor="middle" class="tk">-0.08</text>
<text x="285.8" y="100.8" text-anchor="middle" class="tk">-0.06</text>
<text x="370.3" y="100.8" text-anchor="middle" class="tk">-0.04</text>
<text x="454.8" y="100.8" text-anchor="middle" class="tk">-0.02</text>
<text x="539.3" y="100.8" text-anchor="middle" class="tk">0</text>
<text x="623.8" y="100.8" text-anchor="middle" class="tk">0.02</text>
<text x="708.3" y="100.8" text-anchor="middle" class="tk">0.04</text>
<text x="2" y="136.5" class="pl">Pressure</text><text transform="translate(106.2 136.5) skewX(-10)" class="pls">/</text><text x="120.6" y="136.5" class="pl">10</text><text x="151" y="127.7" class="sup">3</text><text x="167.3" y="136.5" class="pl">pa</text>
<text x="2.1" y="565.6" class="lb">(e)</text>
<text x="390" y="565.1" class="eq">λ</text>
<text x="415.6" y="565.1" class="eq">=</text>
<text x="442.3" y="565.1" class="eq">1.71</text>
<text x="493.5" y="565.1" class="eq cj">；</text>
<text x="520.6" y="565.1" class="eq it">r</text>
<text x="529.6" y="572.2" class="eq it">v</text>
<text x="535.1" y="552.6" class="eq it">G</text>
<text transform="translate(558.7 571.8) scale(1.5 1.7)" class="sl">/</text>
<text x="577.8" y="565.1" class="eq it">r</text>
<text x="586.3" y="572.2" class="eq it">v</text>
<text x="592.3" y="552.6" class="eq it">SC</text>
<text x="640" y="565.1" class="eq">=</text>
<text x="733.6" y="565.1" text-anchor="end" class="eq">0.945</text>
</svg>
<svg class="pn" style="left:753.5px;top:1184.5px" width="740.5" height="582" viewBox="0 0 740.5 582">
<rect width="741" height="582" fill="#00ff0f"/>
<path fill="#0fff00" fill-rule="evenodd" d="M741 582 0 582 -0 0 741 -0 741 582Z"/>
<path fill="#2eff00" fill-rule="evenodd" d="M741 582 0 582 -0 0 741 -0 741 582ZM211.1 273 212.4 271 211 267.3 211.1 273ZM211.7 315 212.3 312 211 310.3 211 315.8 211.7 315Z"/>
<path fill="#4dff00" fill-rule="evenodd" d="M741 582 0 582 -0 0 741 -0 741 582ZM212 276 214 274 214.7 271 213.8 268 211 264.6 211 276.3 212 276ZM211.7 318 214 315 214.7 312 213.8 309 211 307.1 211 318.6 211.7 318Z"/>
<path fill="#6cff00" fill-rule="evenodd" d="M741 582 0 582 -0 0 741 -0 741 582ZM212.1 320 216.5 316 218.6 311 217.3 291 218.8 275 216.9 268 211 262.6 211 320.5 212.1 320Z"/>
<path fill="#8bff00" fill-rule="evenodd" d="M741 582 0 582 -0 0 741 -0 741 582ZM211.6 322 219.3 318 224 312 227.3 302 228.3 291 226.8 279 223.2 270 218 264.5 211 261.5 210.8 315 211 322.2 211.6 322Z"/>
<path fill="#aaff00" fill-rule="evenodd" d="M741 582 0 582 -0 0 741 -0 741 582ZM212.1 323 218 322.5 223 321 227.9 318 232 314 237.9 303 239.6 291 237.4 279 234.5 273 230.7 268 222 262 211 260.1 210.8 320 211 323.1 212.1 323Z"/>
<path fill="#c9ff00" fill-rule="evenodd" d="M741 582 0 582 -0 0 741 -0 741 582ZM230.8 326 242 320.8 247.4 316 251.2 311 256 299 256.3 286 252.1 274 243.8 264 238 260.1 232 257.7 226 256.6 220 256.9 210.9 260 210.9 323 211 323.8 220 326.5 230.8 326Z"/>
<path fill="#e8ff00" fill-rule="evenodd" d="M741 582 0 582 -0 0 741 -0 741 582ZM252.1 339 262 336.4 271 332.1 279.1 326 285.4 319 290.2 311 293.4 302 294.5 293 293.9 284 291.3 275 287.2 267 280.8 259 273.6 253 265 248.2 255.3 245 246 243.8 236 244.5 229 246.3 222 249.5 216 253.8 211 259 210.8 324 218 331.2 228 336.7 240 339.4 252.1 339Z"/>
<path fill="#fff700" fill-rule="evenodd" d="M421 582 -0 582 0 -0 421.8 0 407.7 37 393.2 68 377.9 94 360.5 117 345.2 133 327.3 148 310.3 160 269 186.6 252 199.2 237 212.7 225 226.8 216 241.9 211 256.5 210.5 289 211 326.9 216 341.5 225 356.6 237 370.7 252 384.2 270 397.4 326.8 435 344.7 450 360.2 466 377.6 489 392.9 515 407.9 547 421 582Z"/>
<path fill="#ffd800" fill-rule="evenodd" d="M114 582 -0 582 0 -0 113.7 0 131.4 45 171 138.4 185 173.8 198 212.7 210.5 260 210.4 324 197 374.1 188 401.3 177 430.2 134.4 531 114 582Z"/>
<path fill="#ffb900" fill-rule="evenodd" d="M154 356.1 140 356.2 127 353.9 114 349.1 103 342.5 93.5 334 85.9 324 80.1 312 77.2 300 76.8 287 78.9 275 83.3 264 90.4 253 100 243.3 110.7 236 123 230.7 136 227.7 146 226.9 157 227.7 168 230 178 233.6 187 238.3 196 244.8 203 251.3 210.4 260 210 324.4 198 336.9 185 346.2 170 352.8 154 356.1Z"/>
<path fill="#ff9b00" fill-rule="evenodd" d="M189 330 181 329.4 174 327.6 167 324.3 161 319.9 155.5 314 151.9 308 149.3 301 148.1 293 148.7 285 150.7 278 154.4 271 159 265.4 165 260.4 172 256.6 179 254.4 187 253.4 195 254 203 256.4 210 259.4 210.4 263 210 323.8 199 328.5 189 330Z"/>
<path fill="#ff7c00" fill-rule="evenodd" d="M210 323.3 198 323.4 188.1 319 183.6 315 179.8 310 175.6 299 175.3 286 179.5 274 187.3 265 192.1 262 198.1 260 210.1 260 210 323.3Z"/>
<path fill="#ff5d00" fill-rule="evenodd" d="M210 322.8 202 320.6 196.9 317 193.2 311 191.9 304 192.8 292 191.9 279 193.4 272 196.4 267 199.8 264 209 260.9 210 260.9 210.3 268 210 322.8Z"/>
<path fill="#ff3e00" fill-rule="evenodd" d="M210 284.1 206 283.2 202.8 281 200.3 277 199.7 273 200.6 269 202.6 266 210 261.7 210 284.1ZM210 322.3 202.2 317 200.4 314 199.7 310 200.4 306 203 302.2 206 300.2 210 299.3 210 322.3Z"/>
<path fill="#ff1f00" fill-rule="evenodd" d="M210 278.4 205.2 276 203.6 271 205.6 266 210 262.4 210 278.4ZM210 320.6 205.3 317 203.5 312 205.6 307 210 305 210 320.6Z"/>
<path fill="#ff0000" fill-rule="evenodd" d="M210 275.4 207.2 274 206 271 207.1 267 210 264.3 210 275.4ZM210 320.1 206.8 316 206 313 207 309.7 210 308 210 320.1Z"/>
<circle cx="210.2" cy="260.8" r="1.6" fill="#fff"/><circle cx="210.2" cy="271.3" r="1.6" fill="#fff"/><circle cx="210.2" cy="281.7" r="1.6" fill="#fff"/><circle cx="210.2" cy="292.2" r="1.6" fill="#fff"/><circle cx="210.2" cy="302.7" r="1.6" fill="#fff"/><circle cx="210.2" cy="313.1" r="1.6" fill="#fff"/><circle cx="210.2" cy="323.6" r="1.6" fill="#fff"/>
<rect x="21.30" y="22.7" width="11.30" height="43.3" fill="#0000ff"/>
<rect x="32.30" y="22.7" width="21.43" height="43.3" fill="#001fff"/>
<rect x="53.43" y="22.7" width="21.42" height="43.3" fill="#003eff"/>
<rect x="74.55" y="22.7" width="21.43" height="43.3" fill="#005dff"/>
<rect x="95.67" y="22.7" width="21.43" height="43.3" fill="#007cff"/>
<rect x="116.80" y="22.7" width="21.42" height="43.3" fill="#009bff"/>
<rect x="137.92" y="22.7" width="21.43" height="43.3" fill="#00b9ff"/>
<rect x="159.05" y="22.7" width="21.43" height="43.3" fill="#00d8ff"/>
<rect x="180.18" y="22.7" width="21.43" height="43.3" fill="#00f7ff"/>
<rect x="201.30" y="22.7" width="21.43" height="43.3" fill="#00ffe8"/>
<rect x="222.43" y="22.7" width="21.43" height="43.3" fill="#00ffc9"/>
<rect x="243.55" y="22.7" width="21.42" height="43.3" fill="#00ffaa"/>
<rect x="264.67" y="22.7" width="21.43" height="43.3" fill="#00ff8b"/>
<rect x="285.80" y="22.7" width="21.43" height="43.3" fill="#00ff6c"/>
<rect x="306.93" y="22.7" width="21.43" height="43.3" fill="#00ff4d"/>
<rect x="328.05" y="22.7" width="21.42" height="43.3" fill="#00ff2e"/>
<rect x="349.18" y="22.7" width="21.43" height="43.3" fill="#00ff0f"/>
<rect x="370.30" y="22.7" width="21.43" height="43.3" fill="#0fff00"/>
<rect x="391.43" y="22.7" width="21.43" height="43.3" fill="#2eff00"/>
<rect x="412.55" y="22.7" width="21.43" height="43.3" fill="#4dff00"/>
<rect x="433.68" y="22.7" width="21.43" height="43.3" fill="#6cff00"/>
<rect x="454.80" y="22.7" width="21.43" height="43.3" fill="#8bff00"/>
<rect x="475.93" y="22.7" width="21.43" height="43.3" fill="#aaff00"/>
<rect x="497.05" y="22.7" width="21.42" height="43.3" fill="#c9ff00"/>
<rect x="518.17" y="22.7" width="21.43" height="43.3" fill="#e8ff00"/>
<rect x="539.30" y="22.7" width="21.43" height="43.3" fill="#fff700"/>
<rect x="560.42" y="22.7" width="21.43" height="43.3" fill="#ffd800"/>
<rect x="581.55" y="22.7" width="21.43" height="43.3" fill="#ffb900"/>
<rect x="602.67" y="22.7" width="21.43" height="43.3" fill="#ff9b00"/>
<rect x="623.80" y="22.7" width="21.42" height="43.3" fill="#ff7c00"/>
<rect x="644.92" y="22.7" width="21.43" height="43.3" fill="#ff5d00"/>
<rect x="666.05" y="22.7" width="21.43" height="43.3" fill="#ff3e00"/>
<rect x="687.17" y="22.7" width="21.43" height="43.3" fill="#ff1f00"/>
<rect x="708.30" y="22.7" width="10.30" height="43.3" fill="#ff0000"/>
<line x1="32.30" y1="22.7" x2="32.30" y2="66.0" stroke="#1a1a1a" stroke-width="1.2"/>
<line x1="116.80" y1="22.7" x2="116.80" y2="66.0" stroke="#1a1a1a" stroke-width="1.2"/>
<line x1="201.30" y1="22.7" x2="201.30" y2="66.0" stroke="#1a1a1a" stroke-width="1.2"/>
<line x1="285.80" y1="22.7" x2="285.80" y2="66.0" stroke="#1a1a1a" stroke-width="1.2"/>
<line x1="370.30" y1="22.7" x2="370.30" y2="66.0" stroke="#1a1a1a" stroke-width="1.2"/>
<line x1="454.80" y1="22.7" x2="454.80" y2="66.0" stroke="#1a1a1a" stroke-width="1.2"/>
<line x1="539.30" y1="22.7" x2="539.30" y2="66.0" stroke="#1a1a1a" stroke-width="1.2"/>
<line x1="623.80" y1="22.7" x2="623.80" y2="66.0" stroke="#1a1a1a" stroke-width="1.2"/>
<line x1="708.30" y1="22.7" x2="708.30" y2="66.0" stroke="#1a1a1a" stroke-width="1.2"/>
<rect x="21.3" y="22.7" width="697.0" height="43.3" fill="none" stroke="#1a1a1a" stroke-width="1.4"/>
<text x="32.3" y="100.8" text-anchor="middle" class="tk">-0.12</text>
<text x="116.8" y="100.8" text-anchor="middle" class="tk">-0.1</text>
<text x="201.3" y="100.8" text-anchor="middle" class="tk">-0.08</text>
<text x="285.8" y="100.8" text-anchor="middle" class="tk">-0.06</text>
<text x="370.3" y="100.8" text-anchor="middle" class="tk">-0.04</text>
<text x="454.8" y="100.8" text-anchor="middle" class="tk">-0.02</text>
<text x="539.3" y="100.8" text-anchor="middle" class="tk">0</text>
<text x="623.8" y="100.8" text-anchor="middle" class="tk">0.02</text>
<text x="708.3" y="100.8" text-anchor="middle" class="tk">0.04</text>
<text x="2" y="136.5" class="pl">Pressure</text><text transform="translate(106.2 136.5) skewX(-10)" class="pls">/</text><text x="120.6" y="136.5" class="pl">10</text><text x="151" y="127.7" class="sup">3</text><text x="167.3" y="136.5" class="pl">pa</text>
<text x="2.1" y="565.6" class="lb">(f)</text>
<text x="390" y="565.1" class="eq">λ</text>
<text x="415.6" y="565.1" class="eq">=</text>
<text x="442.3" y="565.1" class="eq">2.17</text>
<text x="493.5" y="565.1" class="eq cj">；</text>
<text x="520.6" y="565.1" class="eq it">r</text>
<text x="529.6" y="572.2" class="eq it">v</text>
<text x="535.1" y="552.6" class="eq it">G</text>
<text transform="translate(558.7 571.8) scale(1.5 1.7)" class="sl">/</text>
<text x="577.8" y="565.1" class="eq it">r</text>
<text x="586.3" y="572.2" class="eq it">v</text>
<text x="592.3" y="552.6" class="eq it">SC</text>
<text x="640" y="565.1" class="eq">=</text>
<text x="733.6" y="565.1" text-anchor="end" class="eq">0.951</text>
</svg>
<svg class="pn" style="left:2px;top:1776px" width="740.5" height="582" viewBox="0 0 740.5 582">
<rect width="741" height="582" fill="#0000ff"/>
<path fill="#001fff" fill-rule="evenodd" d="M741 582 0 582 -0 0 741 -0 741 582ZM351.2 282 360 275.8 368 265.6 372.3 255 373 245 370.2 236 364 228.6 355 224 345 223.1 335.1 226 327.5 232 322.7 241 321.8 251 323 257.1 325.8 264 334 275.5 343 282.1 347 282.9 351.2 282ZM351.9 361 361 357.8 368 351.8 372.1 344 373.1 334 370 322.8 363 311.9 354 303.9 350 302 346 301.6 342 302.8 337 306.2 328 316.5 322.8 328 321.9 339 325.3 349 332 356.3 341 360.5 351.9 361Z"/>
<path fill="#003eff" fill-rule="evenodd" d="M741 582 0 582 -0 0 741 -0 741 582ZM354.2 365 362 362.3 369 357.4 374 351 377 343 377.5 334 375.2 324 371 314.8 361.3 299 359.4 292 361.5 285 370.8 270 374.7 262 377 254 377.6 246 374.8 235 367.9 226 358 220.3 346 218.7 336 220.8 328 225.4 322 232 318.2 241 317.5 250 319.4 260 323.2 269 333.1 286 334.7 292 332.8 299 320.3 322 318 330 317.5 338 318.4 344 320.7 350 324.1 355 329 359.6 335 363 341 364.9 348 365.6 354.2 365Z"/>
<path fill="#005dff" fill-rule="evenodd" d="M741 582 0 582 -0 0 741 -0 741 582ZM355.7 369 365 365.7 372.7 360 378 353 381.3 344 381.9 336 380.6 327 377.5 318 369.2 300 367.7 292 369.4 284 379.9 260 381.6 252 381.9 245 380.7 238 378.3 232 375 227 370 222 364 218.2 358 215.8 345 214.5 335 216.7 325.4 222 318.2 230 314.3 239 313.2 248 314.3 257 317.1 266 324.9 284 326.5 292 325.1 300 315 324.7 313.3 339 314.5 346 317.4 353 321.9 359 327 363.4 333.7 367 341 369.2 348 369.8 355.7 369Z"/>
<path fill="#007cff" fill-rule="evenodd" d="M741 582 0 582 -0 0 741 -0 741 582ZM357.2 373 367 369.5 376 363.1 382.1 355 385.5 346 386.3 338 385.4 329 382.8 320 375.5 301 374.1 292 375.7 283 384.8 258 386.2 244 385.1 237 382.3 230 378.4 224 373.3 219 367 214.8 360 212 353 210.6 345 210.4 333 213 323 218.5 315 226.9 310.4 237 309.1 246 309.8 255 312 264 319.1 284 320.2 293 318.6 302 310.5 326 309.2 340 310.6 348 313.6 355 318.8 362 324.8 367 332 370.8 340 373.2 349 374 357.2 373Z"/>
<path fill="#009bff" fill-rule="evenodd" d="M741 582 0 582 -0 0 741 -0 741 582ZM352.8 378 365 375.2 376 369.1 384 360.8 389.2 350 390.7 341 390.1 331 387.7 321 381.3 302 379.9 292 381.4 282 389.2 258 390.7 244 389.5 236 387 228.9 382.7 222 377 216.1 370 211.4 363 208.4 355 206.5 346 206.1 333 208.5 321 214.6 312.4 223 306.7 234 305 243 305.3 253 307.4 263 313.6 283 314.8 293 313.5 302 306.1 327 305 340 306.1 348 309 355.7 313 362 319 368 326.6 373 335 376.3 344 378 352.8 378Z"/>
<path fill="#00b9ff" fill-rule="evenodd" d="M741 582 0 582 -0 0 741 -0 741 582ZM356.5 382 369 378.5 380 372 389 362 393.9 351 395.3 342 394.7 332 386.5 302 385.3 292 386.6 282 394.1 256 395.2 242 393.7 233 390.4 225 385.6 218 379.4 212 372 207.2 363 203.7 354 201.9 345 201.8 331 204.6 318.5 211 309 220.1 302.7 232 300.7 242 301 252 308.7 283 309.7 293 308.3 303 301.7 328 300.7 342 302.3 351 305.6 359 311 366.5 318.2 373 327 378 336 381 346 382.5 356.5 382Z"/>
<path fill="#00d8ff" fill-rule="evenodd" d="M741 582 0 582 -0 0 741 -0 741 582ZM352.6 387 368 384 381 377.4 387 372.4 391.7 367 398 355 399.9 345 399.7 335 397.9 325 391.8 303 390.5 292 391.9 281 399 255 400 242 398.8 233 395.6 224 390.5 216 384 209.4 376 203.9 367 199.9 357 197.6 347 197.1 331 199.9 317 206.5 306 216.3 302 222.1 298.8 229 296.5 239 296.5 250 303.7 282 304.7 293 303.4 304 297.2 329 296.2 341 297.5 351 300.9 360 306.1 368 313 374.8 321 380.1 331 384.3 342 386.7 352.6 387Z"/>
<path fill="#00f7ff" fill-rule="evenodd" d="M741 582 0 582 -0 0 741 -0 741 582ZM360.5 391 375 386.7 387.6 379 397 368.8 403.2 356 404.9 346 404.7 336 396.8 303 395.7 292 397 281 404.1 253 404.9 238 402.9 228 398.9 219 393 210.8 385 203.5 376 198.1 366 194.4 355 192.5 344 192.5 327 196.2 312.2 204 300.9 215 294.1 228 292 238 292 249 299 282 299.9 293 298.7 304 292.5 331 291.8 345 293.6 355 298 365 305 374 314 381.4 324 386.8 336 390.5 348 391.9 360.5 391Z"/>
<path fill="#00ffe8" fill-rule="evenodd" d="M741 582 0 582 -0 0 741 -0 741 582ZM351.2 397 361 396.2 370 394.2 378 391.3 386 387 392.6 382 398.6 376 403.5 369 407 361.9 409.8 351 410 339 408.2 328 402 304 400.9 291 402.2 280 409 253 410.2 241 409.1 230 405.7 220 400.4 211 393 202.8 384 196.2 374 191.4 362 188.1 350 187.2 340 187.9 331 189.7 322 192.8 313.7 197 306.5 202 300 208.1 294.7 215 290.6 223 287.6 234 287.2 246 288.7 257 294.3 282 295.1 294 293.8 305 287.9 331 286.9 343 288.2 354 291.7 364 297.4 373 305.1 381 315 387.9 326 392.9 338 396 351.2 397Z"/>
<path fill="#00ffc9" fill-rule="evenodd" d="M741 582 0 582 -0 0 741 -0 741 582ZM360 402 369 400.4 378 397.6 393 389.3 400 383.2 405.3 377 409.7 370 413.1 362 415.3 351 415.2 340 413.4 329 407.3 305 406 292 407.5 279 414.6 250 415.5 235 413.5 224 408.8 213 402 203.5 393 195.1 383 188.9 371 184.3 359 182.1 346 181.8 336 183 326 185.6 317 189.2 309 193.6 301 199.7 294.8 206 289.7 213 285.7 221 282.7 232 282.2 244 283.8 256 289.4 281 290.3 294 288.9 306 282.9 333 282.1 348 284.4 360 289.5 371 297 380.7 307 389.2 319 395.9 332 400.2 346 402.3 360 402Z"/>
<path fill="#00ffaa" fill-rule="evenodd" d="M741 582 0 582 -0 0 741 -0 741 582ZM360.9 408 371 406.3 380 403.5 388 399.9 396 394.9 403.1 389 409.3 382 414.5 374 418.1 366 420.8 354 420.7 342 418.9 331 412.3 305 411.1 291 412.8 278 420 249 421 233 418.8 221 414 209.7 406.4 199 397 190.2 386 183.3 374 178.7 360 176 346 175.8 335 177.3 325 179.8 315 183.8 306 188.8 298 194.8 290.9 202 285.1 210 281 218.1 277.7 230 277.2 243 278.8 255 284.4 280 285.4 294 284 306 277.7 334 276.8 349 279.3 362 284.9 374 293.4 385 304 394 317 401.2 331 406 346 408.3 360.9 408Z"/>
<path fill="#00ff8b" fill-rule="evenodd" d="M741 582 0 582 -0 0 741 -0 741 582ZM354.6 415 366 414.1 377 411.7 387 408 396 403.1 404.2 397 412 389.2 417.9 381 422.5 372 426.1 359 426.6 346 424.5 333 417.3 305 416.1 291 417.8 278 425.5 248 426.9 234 425.3 221 420.9 209 413.4 197 404 187.1 393 179.2 380 173.4 367 170.2 352 169.1 340 170 328 172.4 317 176.1 307 181 298 187.1 289.3 195 282.1 204 277 213 272.7 226 271.7 240 273.4 253 279.6 281 280.4 295 278.8 307 272.3 335 271.3 348 273 361 278.2 374 286.4 386 297 396.3 310 404.7 324 410.5 339 414 354.6 415Z"/>
<path fill="#00ff6c" fill-rule="evenodd" d="M741 582 0 582 -0 0 741 -0 741 582ZM361.6 422 373 420.4 384 417.3 394 412.9 403 407.3 411.6 400 418.6 392 424.6 383 428.7 374 432 361 432.2 347 430.2 335 422.5 306 421.1 291 423 277 431.5 245 432.7 229 430.3 215 424.9 202 416.9 190 405.8 179 394 171.2 380 165.5 365 162.4 349 161.9 336 163.4 324 166.2 313 170.4 302 176.3 292 183.6 284 191.5 276.8 201 271.3 211 267 225 266.1 239 267.8 252 274.2 280 275.2 295 273.4 308 266.6 336 265.5 351 268.2 366 274.6 380 284.3 393 297 404.4 311 412.8 327 418.7 344 421.8 361.6 422Z"/>
<path fill="#00ff4d" fill-rule="evenodd" d="M741 582 0 582 -0 0 741 -0 741 582ZM365.5 430 377 428.1 388 424.7 398 420 408 413.5 416.4 406 424.1 397 430.4 387 434.8 377 438.1 363 438.1 349 435.7 336 427.6 307 426.1 291 428.2 276 437.4 243 438.6 225 435.8 210 429.8 196 420.1 182 408.7 171 396 162.9 381 157 365 154 348 153.8 335 155.4 322 158.6 310 163.3 299 169.4 289 177 280 186 272 196.6 265.9 208 261.3 222 260.1 237 261.7 250 268.8 280 269.7 295 267.8 308 260.4 337 259.3 353 262.6 369 270 384.7 281 399.4 295 411.9 311 421.2 328 427.2 347 430.3 365.5 430Z"/>
<path fill="#00ff2e" fill-rule="evenodd" d="M741 582 0 582 -0 0 741 -0 741 582ZM360.9 440 374 438.5 386 435.5 398 430.5 408 424.5 418 416.3 427 406.4 434.6 395 439.8 384 443.9 369 444.4 353 441.8 339 432.5 307 431 291 433.2 276 443.4 241 445 224 442.9 209 436.8 193 427 177.4 415 164.7 402 155.4 387 148.7 371 145 353 144 338 145.3 324 148.4 311 153.1 299 159.5 288 167.5 278 177.2 269 188.7 261.9 201 255.6 218 253.7 235 255.4 249 263 280 263.8 295 261.9 308 253.9 337 252.5 351 255.3 368 263 386 274.6 403 289 417.5 304 427.5 322 435.1 341 439.2 360.9 440Z"/>
<path fill="#00ff0f" fill-rule="evenodd" d="M741 582 0 582 -0 0 741 -0 741 582ZM368.1 451 381 448.7 393 444.9 404 439.5 415 432 425 422.7 433.7 412 441 400.3 446.5 388 450.6 371 450.7 355 447.8 341 437.6 308 435.8 291 438.3 275 449.8 238 451.3 228 451.4 218 448.4 201 441 183.1 430 166.4 417 153.1 403 143.5 387 136.7 369 133 350 132.5 335 134.3 320 138 307 143.2 295 150.1 283 159.8 273 170.5 263.9 183 256.2 197 249.3 216 246.9 234 248.5 248 256.5 279 257.5 295 255.1 309 246.5 338 245.4 353 246.6 362 249.4 372 259.4 394 273 413.7 289 429.5 306 440.4 325 447.6 347 451.3 368.1 451Z"/>
<path fill="#0fff00" fill-rule="evenodd" d="M741 582 0 582 -0 0 741 -0 741 582ZM363.9 466 379 463.9 393 459.7 406 453.4 417 445.8 428 435.6 437.4 424 446 410.1 452.3 396 457.3 377 457.5 359 454.1 343 442.6 309 441 300 440.6 291 443.5 274 456.2 236 458.1 225 458.4 215 455.4 196 448.2 177 437 158.3 423 142.4 408 131 392 123.3 373 118.5 353 117.5 337 118.9 321 122.6 307 128 295 134.9 284 143.6 273 155.3 263 168.9 253.8 185 244.5 208 239.9 229 240.3 244 249 276.9 250.5 292 248.2 307 238.6 337 237.4 349 238.7 359 241.8 371 246.5 384 252.9 398 267.6 422 276 432.4 284 440.6 300 452.4 319 460.8 341 465.4 363.9 466Z"/>
<path fill="#2eff00" fill-rule="evenodd" d="M741 582 0 582 -0 0 741 -0 741 582ZM366.5 486 382 483.3 396 478.6 409 471.8 421 462.7 432.5 451 443 437 452 421.3 459 405 464.6 383 465.3 373 464.8 363 461 346 447.8 310 445.8 300 445.4 291 446.4 282 448.7 273 463.5 232 465.6 220 465.9 209 462.6 188 454 164.7 441.6 143 426 124.3 410 111.2 392 101.9 372 96.7 351 95.6 335 97.3 319 101.2 305 106.9 293 114.4 282 124 272 135.7 262 150.7 252.6 168 245.8 183 240 199 235.2 216 232.4 231 232.3 246 240.7 276 242.4 291 240.5 304 230.4 333 229 344 230.8 356 235 372.4 247.6 406 264 437 272 448.7 281 459.2 289 466.4 297 472 307 477.2 317 481 329 484.1 341 485.9 354 486.6 366.5 486Z"/>
<path fill="#4dff00" fill-rule="evenodd" d="M741 582 0 582 -0 0 741 -0 741 582ZM357.5 518 376 516.3 392 512.3 406 505.9 419 496.6 431 484.2 443 467.6 454 447.9 463 427 468.3 411 471.9 396 473.5 382 473.2 370 471.6 360 468.7 350 452.7 310 450.6 300 450.2 290 451.5 281 454 272 467 241 471.2 229 473.7 217 474.4 205 473.7 193 471.4 180 467.3 165 462 150.2 447.4 120 430 93.8 413 75.2 404 67.8 395 62 386 57.7 376 54.3 366 52.4 356 51.9 342 53 327 56.7 312 62.9 299 70.6 288 79.7 279 89.6 270 102.8 262 117.8 251 143.2 240 173.1 233 196.7 227.4 222 224 241 223.6 249 231.4 277 232.6 292 230.2 305 221.2 328 220.1 334 229 375.8 240 411.9 257.7 458 264 470.9 271 481.8 278 490 286 497 296 503.5 307 508.9 319 513.1 331 515.9 344 517.6 357.5 518Z"/>
<path fill="#6cff00" fill-rule="evenodd" d="M741 582 0 582 -0 0 285.2 0 273 10.7 264 22.7 257.7 36 252.6 54 239.5 126 227 187.3 219.2 237 214.2 256 214.4 259 219.9 277 221 290 218.4 304 211 321.7 211 327.3 213.6 332 216.7 343 224.4 387 243.2 480 249 497.6 257 512 267 523.8 281 536.1 304 552.6 322 563.1 335 568.6 349 572.2 365 574.3 384 575.1 405 573.3 421 567.8 428 563.5 435 557.5 440.5 551 445.7 543 453 526.4 460 502.7 476.5 434 482.4 400 483 381 480.4 364 475.3 349 459 313.7 456 303 455 293 456 283 459 272.4 475.8 236 481.6 219 484.3 200 483.7 179 479.9 154 466.3 89 459 30 453.1 13 443.8 0 741 -0 741 582Z"/>
<path fill="#8bff00" fill-rule="evenodd" d="M265 582 -0 582 0 -0 193.6 0 191.2 8 192.2 17 196 26 208.7 49 214 61.8 218.6 80 220.9 101 220.9 139 216.2 227 214.4 244 210.9 258 210.8 327 213.9 346 219.3 419 220.6 480 221.8 497 225.4 515 231.8 531 239.6 544 258.1 570 265 582ZM741 582 517.8 582 519.4 565 517.7 547 513.9 531 501.5 490 496.8 465 495.2 442 495.2 396 493 377 490.5 367 486.2 356 464.4 314 461.1 303 460.1 293 461.1 283 464.5 272 487.3 228 491.9 216 495.2 203 498 183 500.7 135 503 114 507 94.1 517.3 55 520.5 37 521.3 18 519.1 0 741 0 741 582Z"/>
<path fill="#aaff00" fill-rule="evenodd" d="M200 582 -0 582 0 -0 130.4 0 130.3 8 131.6 15 134.4 23 138.3 30 148.9 43 172 63.9 181 73.5 189 85.5 194.8 99 200 119.5 205 152.9 209 192.4 212.1 237 210.6 257 211 345 207.4 406 204 435.7 193.2 497 191 519 192.1 540 199.9 576 200.9 582 200 582ZM741 582 595.6 582 595.1 569 593.3 556 590.1 544 585.7 533 573.8 513 540 473.3 527 453.4 522 442.5 518 430.9 508.5 388 503.1 371 494.6 354 473.6 321 466.7 304 465.4 295 465.7 287 467.8 278 471.5 269 501.7 219 508.3 204 522 167.5 532 146.6 544 126.4 571.8 84 583.8 61 589.3 46 593 31 595.3 15 595.9 0 741 0 741 582Z"/>
<path fill="#c9ff00" fill-rule="evenodd" d="M120 582 -0 582 0 -0 87.5 0 88.6 12 91.2 23 95.7 34 102.3 45 117.5 63 156 99.3 165 110.7 173 124.1 183 145.9 192.3 171 200 197.4 207 227.1 209.5 242 210.8 259 210.7 326 207.7 347 197 396.1 189.5 421 179 445.7 166 470.2 141.8 510 133 528 125.5 551 120 582ZM741 582 694.7 582 694.4 560 689.9 538 681.4 517 669.3 498 656 483.7 640 471.8 623 463 576 443.5 563 435.5 552 426.1 539 409.5 521.6 377 513.5 364 480 320.6 473.7 308 471 296 471.2 288 473 280 480.7 264 529 200.9 538 190.2 547 181.6 557 173.8 598.9 146 626.8 126 640.8 114 651.4 102 663.4 83 687.3 34 693.7 16 696.1 0 741 0 741 582Z"/>
<path fill="#e8ff00" fill-rule="evenodd" d="M43 582 -0 582 0 -0 32.7 0 35.5 18 39.6 34 45.3 48 52.3 60 60.9 71 71.7 82 146 144.5 159 157 170 169.7 183 188.6 194 209.9 205 237.4 210.7 259 210.6 326 199 358.7 184 393.3 174 409.7 161 425.2 149 436.5 118.9 461 103.2 475 83.4 495 69.9 511 60.9 525 54.5 539 50 553 43.7 582 43 582ZM602 393 590 392.8 579 391 569 387.6 559 382.4 545 372.4 512 345 500 334.3 491 324.8 485 316.8 480.7 309 478 301 477.1 293 478 285 480.6 277 484.9 269 491 260.8 501 250 516 236.3 532 223.2 545 214.1 556 208.1 567 203.6 580 200 594 197.4 618 195.5 640 197.5 661 203.4 696 218.5 710 223.3 726 225.7 741 224.3 741 369.1 724 366.1 705 367.4 688 371.4 634 387.8 617 391.4 602 393Z"/>
<path fill="#fff700" fill-rule="evenodd" d="M1 437.3 0 437.8 0 146.6 12 151.5 25 154.9 79 162.4 108 168.5 134 176.7 154 186.4 170 198.3 184 213.4 198 234.1 210.6 259 210.6 326 199 345.6 184 369 172 384 159 395.4 143 404.7 127 410.7 107 416.1 78 421.8 26 429.3 12 432.9 1 437.3ZM576 350.1 562 350.4 548 348 532 342.7 517 335.4 504 326.6 494.1 317 487.5 307 484.4 297 484.7 287 488 277.6 494.5 268 504 258.5 517 249.2 532 241 546 235.6 560 232.5 573 231.8 586 233.5 598 237.4 610 244 621.1 253 630.4 264 636.5 275 639.6 286 639.8 296 637.3 306 632 316 623.8 326 613.2 335 601 342.4 589 347.3 576 350.1Z"/>
<path fill="#ffd800" fill-rule="evenodd" d="M135 380 116 379.9 94 375.6 71 367.7 49.8 357 32.9 345 19.2 331 10.2 317 5.2 302 4.6 287 8.5 272 16.3 258 28.4 244 44 231.5 62.1 221 83 212.6 104 207.3 120 205.4 135 205.6 149 208.1 162 212.9 174 220 185 229.2 195 239.8 210.5 259 210.7 315 210 326.9 182 355.9 168 367.7 152 376.1 135 380ZM552 328 536 328.1 520 324.1 507 316.9 497.4 307 494.7 302 493.1 296 493 290.1 494.2 285 500 274.9 511 265.3 521 259.9 532 256.2 543 254.5 554 254.6 565 257 573.9 261 581.9 267 587.7 274 591.5 282 592.9 291 591.6 299 587.9 307 581.1 315 572.9 321 563 325.5 552 328Z"/>
<path fill="#ffb900" fill-rule="evenodd" d="M150 358.1 138 358.2 125 355.2 113 349.7 102 341.8 92.4 332 84.3 320 79.4 308 77.3 295 78.2 283 82 271 88.7 259 97 249 107.5 240 119 233.2 131 228.8 144 226.7 159 227.9 174 233.2 187 241 210.4 259 210 326.7 203.2 330 172 350.8 161 355.6 150 358.1ZM537 310.1 529 310.7 521 309.2 514 305.8 509 301 506.7 296 506.4 290 509.1 284 514 279 524 274.3 535 273.3 545.6 276 553.2 282 555.5 286 556.4 290 556 295 554.3 299 547.5 306 537 310.1Z"/>
<path fill="#ff9b00" fill-rule="evenodd" d="M161 342.1 151 342.3 142 340.5 133 336.5 125.5 331 119 323.8 113.8 315 110.6 306 109.1 296 109.5 286 111.9 276 116 267 121.5 259 128.7 252 137 246.7 146 243.2 156 241.6 166 242.1 176 244.4 210.3 259 210 326.6 204.7 327 176 338.5 161 342.1Z"/>
<path fill="#ff7c00" fill-rule="evenodd" d="M172 330 161 329.8 151 327.2 142.2 322 135.7 315 131 306 128.8 295 129.7 284 133.3 274 138 267 144.3 261 152 256.5 160 253.9 175 253.2 205 259.3 210 258.5 210.5 315 210.3 322 209 325.6 203 325.2 172 330ZM210 326.4 209 326 210 325.1 210 326.4Z"/>
<path fill="#ff5d00" fill-rule="evenodd" d="M210 259.7 209.2 259 210 258.7 210 259.7ZM209 323.5 172 320.4 162 317.1 154.4 312 148 303.1 145.7 293 147.6 282 153.2 273 162 266.3 174 262.3 188 261.1 208 261 210 261.9 210.5 315 210.2 322 209 323.5ZM210 326.3 209.4 326 210 325.4 210 326.3Z"/>
<path fill="#ff3e00" fill-rule="evenodd" d="M210 322.6 180 313.3 172.3 309 166.9 304 163.1 297 162.5 289 165.6 281 171.1 275 177.4 271 184.9 268 210 262.3 210 322.6Z"/>
<path fill="#ff1f00" fill-rule="evenodd" d="M210 263.7 209 263 210 262.5 210 263.7ZM210 319.6 208 319.6 196.1 314 185.3 307 179.3 300 177 292 178.8 284 184.4 277 193.3 271 208 264.7 210 265.3 210.4 270 210 319.6ZM210 322.3 209.3 322 210 321.5 210 322.3Z"/>
<path fill="#ff0000" fill-rule="evenodd" d="M210 319.4 208 317.1 198 310 193 305 189.3 299 187.6 292 188.9 285 193.3 278 198.7 273 210 265.5 210.3 315 209.1 317 210 317.3 210 319.4Z"/>
<rect x="208.2" y="260.2" width="4" height="64.0" fill="#fff"/>
<rect x="21.30" y="22.7" width="11.30" height="43.3" fill="#0000ff"/>
<rect x="32.30" y="22.7" width="21.43" height="43.3" fill="#001fff"/>
<rect x="53.43" y="22.7" width="21.42" height="43.3" fill="#003eff"/>
<rect x="74.55" y="22.7" width="21.43" height="43.3" fill="#005dff"/>
<rect x="95.67" y="22.7" width="21.43" height="43.3" fill="#007cff"/>
<rect x="116.80" y="22.7" width="21.42" height="43.3" fill="#009bff"/>
<rect x="137.92" y="22.7" width="21.43" height="43.3" fill="#00b9ff"/>
<rect x="159.05" y="22.7" width="21.43" height="43.3" fill="#00d8ff"/>
<rect x="180.18" y="22.7" width="21.43" height="43.3" fill="#00f7ff"/>
<rect x="201.30" y="22.7" width="21.43" height="43.3" fill="#00ffe8"/>
<rect x="222.43" y="22.7" width="21.43" height="43.3" fill="#00ffc9"/>
<rect x="243.55" y="22.7" width="21.42" height="43.3" fill="#00ffaa"/>
<rect x="264.67" y="22.7" width="21.43" height="43.3" fill="#00ff8b"/>
<rect x="285.80" y="22.7" width="21.43" height="43.3" fill="#00ff6c"/>
<rect x="306.93" y="22.7" width="21.43" height="43.3" fill="#00ff4d"/>
<rect x="328.05" y="22.7" width="21.42" height="43.3" fill="#00ff2e"/>
<rect x="349.18" y="22.7" width="21.43" height="43.3" fill="#00ff0f"/>
<rect x="370.30" y="22.7" width="21.43" height="43.3" fill="#0fff00"/>
<rect x="391.43" y="22.7" width="21.43" height="43.3" fill="#2eff00"/>
<rect x="412.55" y="22.7" width="21.43" height="43.3" fill="#4dff00"/>
<rect x="433.68" y="22.7" width="21.43" height="43.3" fill="#6cff00"/>
<rect x="454.80" y="22.7" width="21.43" height="43.3" fill="#8bff00"/>
<rect x="475.93" y="22.7" width="21.43" height="43.3" fill="#aaff00"/>
<rect x="497.05" y="22.7" width="21.42" height="43.3" fill="#c9ff00"/>
<rect x="518.17" y="22.7" width="21.43" height="43.3" fill="#e8ff00"/>
<rect x="539.30" y="22.7" width="21.43" height="43.3" fill="#fff700"/>
<rect x="560.42" y="22.7" width="21.43" height="43.3" fill="#ffd800"/>
<rect x="581.55" y="22.7" width="21.43" height="43.3" fill="#ffb900"/>
<rect x="602.67" y="22.7" width="21.43" height="43.3" fill="#ff9b00"/>
<rect x="623.80" y="22.7" width="21.42" height="43.3" fill="#ff7c00"/>
<rect x="644.92" y="22.7" width="21.43" height="43.3" fill="#ff5d00"/>
<rect x="666.05" y="22.7" width="21.43" height="43.3" fill="#ff3e00"/>
<rect x="687.17" y="22.7" width="21.43" height="43.3" fill="#ff1f00"/>
<rect x="708.30" y="22.7" width="10.30" height="43.3" fill="#ff0000"/>
<line x1="32.30" y1="22.7" x2="32.30" y2="66.0" stroke="#1a1a1a" stroke-width="1.2"/>
<line x1="116.80" y1="22.7" x2="116.80" y2="66.0" stroke="#1a1a1a" stroke-width="1.2"/>
<line x1="201.30" y1="22.7" x2="201.30" y2="66.0" stroke="#1a1a1a" stroke-width="1.2"/>
<line x1="285.80" y1="22.7" x2="285.80" y2="66.0" stroke="#1a1a1a" stroke-width="1.2"/>
<line x1="370.30" y1="22.7" x2="370.30" y2="66.0" stroke="#1a1a1a" stroke-width="1.2"/>
<line x1="454.80" y1="22.7" x2="454.80" y2="66.0" stroke="#1a1a1a" stroke-width="1.2"/>
<line x1="539.30" y1="22.7" x2="539.30" y2="66.0" stroke="#1a1a1a" stroke-width="1.2"/>
<line x1="623.80" y1="22.7" x2="623.80" y2="66.0" stroke="#1a1a1a" stroke-width="1.2"/>
<line x1="708.30" y1="22.7" x2="708.30" y2="66.0" stroke="#1a1a1a" stroke-width="1.2"/>
<rect x="21.3" y="22.7" width="697.0" height="43.3" fill="none" stroke="#1a1a1a" stroke-width="1.4"/>
<text x="32.3" y="100.8" text-anchor="middle" class="tk">-0.12</text>
<text x="116.8" y="100.8" text-anchor="middle" class="tk">-0.1</text>
<text x="201.3" y="100.8" text-anchor="middle" class="tk">-0.08</text>
<text x="285.8" y="100.8" text-anchor="middle" class="tk">-0.06</text>
<text x="370.3" y="100.8" text-anchor="middle" class="tk">-0.04</text>
<text x="454.8" y="100.8" text-anchor="middle" class="tk">-0.02</text>
<text x="539.3" y="100.8" text-anchor="middle" class="tk">0</text>
<text x="623.8" y="100.8" text-anchor="middle" class="tk">0.02</text>
<text x="708.3" y="100.8" text-anchor="middle" class="tk">0.04</text>
<text x="2" y="136.5" class="pl">Pressure</text><text transform="translate(106.2 136.5) skewX(-10)" class="pls">/</text><text x="120.6" y="136.5" class="pl">10</text><text x="151" y="127.7" class="sup">3</text><text x="167.3" y="136.5" class="pl">pa</text>
<text x="2.1" y="565.6" class="lb">(g)</text>
<text x="730.6" y="570.3" text-anchor="end" class="sp">Seamless plate</text>
</svg>
<svg style="position:absolute;left:753.5px;top:1776px" width="741.5" height="585" viewBox="753.5 1776 741.5 585">
<rect x="753.5" y="1776" width="741.5" height="585" fill="#fff"/>
<line x1="841.0" y1="1810.8" x2="1440.0" y2="1810.8" stroke="#a8a8a8" stroke-width="1.6" stroke-dasharray="8.5 10"/>
<line x1="841.0" y1="2048" x2="1440.0" y2="2048" stroke="#e01b1b" stroke-width="2.2" stroke-dasharray="9.6 9.1"/>
<path d="M1442.0 1790.9 H839.0 V2285.0 H1442.0" fill="none" stroke="#000" stroke-width="3.3" stroke-linecap="square"/>
<path d="M1432.0 1790.9 H1442.0 V2285.0 H1432.0" fill="none" stroke="#e01b1b" stroke-width="3.3" stroke-linecap="square"/>
<line x1="893.8" y1="2285.0" x2="893.8" y2="2276.5" stroke="#000" stroke-width="3"/>
<line x1="948.6" y1="2285.0" x2="948.6" y2="2279.5" stroke="#000" stroke-width="3"/>
<line x1="1003.5" y1="2285.0" x2="1003.5" y2="2276.5" stroke="#000" stroke-width="3"/>
<line x1="1058.3" y1="2285.0" x2="1058.3" y2="2279.5" stroke="#000" stroke-width="3"/>
<line x1="1113.1" y1="2285.0" x2="1113.1" y2="2276.5" stroke="#000" stroke-width="3"/>
<line x1="1167.9" y1="2285.0" x2="1167.9" y2="2279.5" stroke="#000" stroke-width="3"/>
<line x1="1222.7" y1="2285.0" x2="1222.7" y2="2276.5" stroke="#000" stroke-width="3"/>
<line x1="1277.5" y1="2285.0" x2="1277.5" y2="2279.5" stroke="#000" stroke-width="3"/>
<line x1="1332.4" y1="2285.0" x2="1332.4" y2="2276.5" stroke="#000" stroke-width="3"/>
<line x1="1387.2" y1="2285.0" x2="1387.2" y2="2279.5" stroke="#000" stroke-width="3"/>
<text x="893.8" y="2319.5" text-anchor="middle" class="ct">0.5</text>
<text x="1003.5" y="2319.5" text-anchor="middle" class="ct">0.6</text>
<text x="1113.1" y="2319.5" text-anchor="middle" class="ct">0.7</text>
<text x="1222.7" y="2319.5" text-anchor="middle" class="ct">0.8</text>
<text x="1332.4" y="2319.5" text-anchor="middle" class="ct">0.9</text>
<text x="1442.0" y="2319.5" text-anchor="middle" class="ct">1.0</text>
<line x1="839.0" y1="2252.1" x2="844.5" y2="2252.1" stroke="#000" stroke-width="3"/>
<line x1="839.0" y1="2219.1" x2="848.0" y2="2219.1" stroke="#000" stroke-width="3"/>
<line x1="839.0" y1="2186.2" x2="844.5" y2="2186.2" stroke="#000" stroke-width="3"/>
<line x1="839.0" y1="2153.2" x2="848.0" y2="2153.2" stroke="#000" stroke-width="3"/>
<line x1="839.0" y1="2120.3" x2="844.5" y2="2120.3" stroke="#000" stroke-width="3"/>
<line x1="839.0" y1="2087.4" x2="848.0" y2="2087.4" stroke="#000" stroke-width="3"/>
<line x1="839.0" y1="2054.4" x2="844.5" y2="2054.4" stroke="#000" stroke-width="3"/>
<line x1="839.0" y1="2021.5" x2="848.0" y2="2021.5" stroke="#000" stroke-width="3"/>
<line x1="839.0" y1="1988.5" x2="844.5" y2="1988.5" stroke="#000" stroke-width="3"/>
<line x1="839.0" y1="1955.6" x2="848.0" y2="1955.6" stroke="#000" stroke-width="3"/>
<line x1="839.0" y1="1922.7" x2="844.5" y2="1922.7" stroke="#000" stroke-width="3"/>
<line x1="839.0" y1="1889.7" x2="848.0" y2="1889.7" stroke="#000" stroke-width="3"/>
<line x1="839.0" y1="1856.8" x2="844.5" y2="1856.8" stroke="#000" stroke-width="3"/>
<line x1="839.0" y1="1823.8" x2="848.0" y2="1823.8" stroke="#000" stroke-width="3"/>
<text x="826" y="2294.8" text-anchor="end" class="ct">10</text>
<text x="826" y="2228.9" text-anchor="end" class="ct">12</text>
<text x="826" y="2163.0" text-anchor="end" class="ct">14</text>
<text x="826" y="2097.2" text-anchor="end" class="ct">16</text>
<text x="826" y="2031.3" text-anchor="end" class="ct">18</text>
<text x="826" y="1965.4" text-anchor="end" class="ct">20</text>
<text x="826" y="1899.5" text-anchor="end" class="ct">22</text>
<text x="826" y="1833.6" text-anchor="end" class="ct">24</text>
<line x1="1442.0" y1="2235.6" x2="1436.0" y2="2235.6" stroke="#e01b1b" stroke-width="3"/>
<line x1="1442.0" y1="2186.2" x2="1432.0" y2="2186.2" stroke="#e01b1b" stroke-width="3"/>
<line x1="1442.0" y1="2136.8" x2="1436.0" y2="2136.8" stroke="#e01b1b" stroke-width="3"/>
<line x1="1442.0" y1="2087.4" x2="1432.0" y2="2087.4" stroke="#e01b1b" stroke-width="3"/>
<line x1="1442.0" y1="2038.0" x2="1436.0" y2="2038.0" stroke="#e01b1b" stroke-width="3"/>
<line x1="1442.0" y1="1988.5" x2="1432.0" y2="1988.5" stroke="#e01b1b" stroke-width="3"/>
<line x1="1442.0" y1="1939.1" x2="1436.0" y2="1939.1" stroke="#e01b1b" stroke-width="3"/>
<line x1="1442.0" y1="1889.7" x2="1432.0" y2="1889.7" stroke="#e01b1b" stroke-width="3"/>
<line x1="1442.0" y1="1840.3" x2="1436.0" y2="1840.3" stroke="#e01b1b" stroke-width="3"/>
<text x="1450.5" y="2294.3" class="ct" fill="#e01b1b" style="fill:#e01b1b">0.8</text>
<text x="1450.5" y="2195.5" class="ct" fill="#e01b1b" style="fill:#e01b1b">1.0</text>
<text x="1450.5" y="2096.7" class="ct" fill="#e01b1b" style="fill:#e01b1b">1.2</text>
<text x="1450.5" y="1997.8" class="ct" fill="#e01b1b" style="fill:#e01b1b">1.4</text>
<text x="1450.5" y="1899.0" class="ct" fill="#e01b1b" style="fill:#e01b1b">1.6</text>
<text x="1450.5" y="1800.2" class="ct" fill="#e01b1b" style="fill:#e01b1b">1.8</text>
<polyline points="926.7,2075.0 1117.0,2026.1 1263.6,1936.7 1351.5,1885.8 1380.6,1896.1 1388.7,1902.1" fill="none" stroke="#e01b1b" stroke-width="2.4" stroke-linejoin="round"/>
<path d="M926.7 2066.8V2083.2M918.9 2067.2L934.5 2082.8M918.9 2082.8L934.5 2067.2" stroke="#e01b1b" stroke-width="1.4" fill="none"/>
<path d="M1117.0 2017.9V2034.3M1109.2 2018.3L1124.8 2033.9M1109.2 2033.9L1124.8 2018.3" stroke="#e01b1b" stroke-width="1.4" fill="none"/>
<path d="M1263.6 1928.5V1944.9M1255.8 1928.9L1271.4 1944.4M1255.8 1944.4L1271.4 1928.9" stroke="#e01b1b" stroke-width="1.4" fill="none"/>
<path d="M1351.5 1877.6V1894.0M1343.8 1878.0L1359.3 1893.6M1343.8 1893.6L1359.3 1878.0" stroke="#e01b1b" stroke-width="1.4" fill="none"/>
<path d="M1380.6 1887.9V1904.3M1372.8 1888.4L1388.4 1903.9M1372.8 1903.9L1388.4 1888.4" stroke="#e01b1b" stroke-width="1.4" fill="none"/>
<path d="M1388.7 1893.9V1910.3M1380.9 1894.3L1396.5 1909.9M1380.9 1909.9L1396.5 1894.3" stroke="#e01b1b" stroke-width="1.4" fill="none"/>
<polyline points="926.7,1969.8 1117.0,2004.7 1263.6,2021.2 1351.5,2086.7 1382.8,2196.1 1388.7,2252.1" fill="none" stroke="#000" stroke-width="2.4" stroke-linejoin="round"/>
<path d="M926.7 1961.6V1978.0M918.9 1962.0L934.5 1977.6M918.9 1977.6L934.5 1962.0" stroke="#000" stroke-width="1.4" fill="none"/>
<path d="M1117.0 1996.5V2012.9M1109.2 1996.9L1124.8 2012.5M1109.2 2012.5L1124.8 1996.9" stroke="#000" stroke-width="1.4" fill="none"/>
<path d="M1263.6 2013.0V2029.4M1255.8 2013.4L1271.4 2028.9M1255.8 2028.9L1271.4 2013.4" stroke="#000" stroke-width="1.4" fill="none"/>
<path d="M1351.5 2078.5V2094.9M1343.8 2078.9L1359.3 2094.5M1343.8 2094.5L1359.3 2078.9" stroke="#000" stroke-width="1.4" fill="none"/>
<path d="M1382.8 2187.9V2204.3M1375.0 2188.3L1390.6 2203.9M1375.0 2203.9L1390.6 2188.3" stroke="#000" stroke-width="1.4" fill="none"/>
<path d="M1388.7 2243.9V2260.3M1380.9 2244.3L1396.5 2259.8M1380.9 2259.8L1396.5 2244.3" stroke="#000" stroke-width="1.4" fill="none"/>
<text x="1140.3" y="1834" text-anchor="middle" class="cs">Pressure drag of the seamless plate</text>
<text x="1140" y="2086" text-anchor="middle" class="cs" style="fill:#e01b1b">Pressure drag of a single micro-cylinder</text>
<line x1="858" y1="2189.4" x2="907" y2="2189.4" stroke="#e01b1b" stroke-width="2.4"/><path d="M882.1 2181.2V2197.6M874.3 2181.6L889.9 2197.2M874.3 2197.2L889.9 2181.6" stroke="#e01b1b" stroke-width="1.4" fill="none"/>
<text x="918.3" y="2198" class="cs">Average pressure drag of a single micro-cylinder</text>
<text x="918.3" y="2227" class="cs">constituting the seam plate</text>
<line x1="858" y1="2250.8" x2="907" y2="2250.8" stroke="#000" stroke-width="2.4"/><path d="M881.4 2242.6V2259.0M873.6 2243.0L889.2 2258.6M873.6 2258.6L889.2 2243.0" stroke="#000" stroke-width="1.4" fill="none"/>
<text x="918.3" y="2258.7" class="cs">Pressure drag of the seam plate</text>
<text x="1140" y="2348.6" text-anchor="middle" class="cx">Ratio of viscous drag percentage</text>
<text transform="translate(784.8 2039) rotate(-90)" text-anchor="middle" class="cx">Pressure drag (10<tspan class="csup" dy="-11">-6</tspan><tspan dy="11"> N)</tspan></text>
<text x="756" y="2341" class="lb">(h)</text>
</svg>
</body></html>
